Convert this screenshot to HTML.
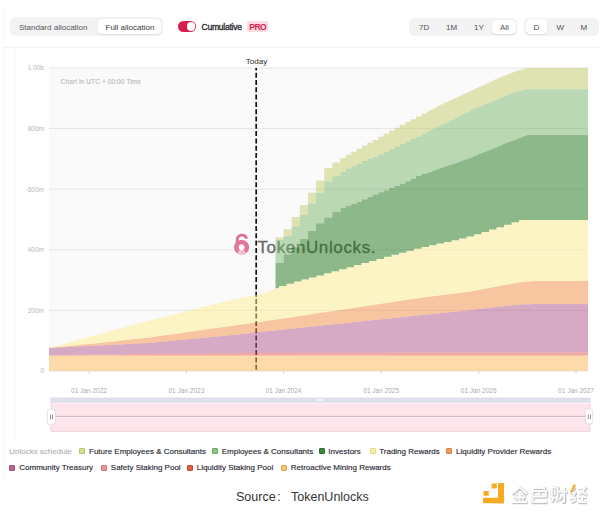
<!DOCTYPE html>
<html><head><meta charset="utf-8">
<style>
html,body{margin:0;padding:0;background:#fff;}
body{width:600px;height:515px;position:relative;overflow:hidden;font-family:"Liberation Sans",sans-serif;}
.a{position:absolute;white-space:nowrap;}
.grp{position:absolute;background:#f3f3f4;border-radius:5px;}
.btn{position:absolute;background:#fff;border-radius:4px;box-shadow:0 0 1px rgba(0,0,0,.18),0 1px 1px rgba(0,0,0,.06);}
.t8{font-size:8px;line-height:10px;}
.yl{position:absolute;left:0;width:44px;text-align:right;font-size:6.5px;line-height:10px;color:#b6b6ba;}
.xl{position:absolute;top:385.5px;width:60px;text-align:center;font-size:6.5px;line-height:10px;color:#aaaaae;}
.lg{position:absolute;font-size:8px;line-height:10px;color:#2a2a33;white-space:nowrap;-webkit-text-stroke:0.15px #2a2a33;}
.sw{position:absolute;width:6px;height:6px;border-radius:1px;box-sizing:border-box;}
</style></head><body>
<!-- faint frame lines -->
<div class="a" style="left:3px;top:10px;width:1px;height:468px;background:#f8f8f9"></div>
<div class="a" style="left:15px;top:47px;width:1px;height:393px;background:#f9f9fa"></div>
<div class="a" style="left:3px;top:47px;width:597px;height:1px;background:#f2f2f3"></div>

<!-- allocation toggle -->
<div class="grp" style="left:10px;top:17px;width:153px;height:19px"></div>
<div class="btn" style="left:97.8px;top:19.4px;width:63.2px;height:14.8px"></div>
<div class="a t8" style="left:19px;top:22.7px;color:#55555c">Standard allocation</div>
<div class="a t8" style="left:105.5px;top:22.7px;color:#3a3a40">Full allocation</div>

<!-- cumulative switch -->
<div class="a" style="left:178px;top:21px;width:18px;height:11px;border-radius:5.5px;background:#d91c4c"></div>
<div class="a" style="left:186.7px;top:22.2px;width:8.6px;height:8.6px;border-radius:4.3px;background:#fff"></div>
<div class="a" style="left:201.5px;top:21.8px;font-size:8.6px;line-height:10px;letter-spacing:-0.28px;color:#24242b;-webkit-text-stroke:0.3px #24242b">Cumulative</div>
<div class="a" style="left:247px;top:21px;width:21px;height:11px;border-radius:2px;background:#fcdbe3"></div>
<div class="a" style="left:249.3px;top:21.8px;font-size:8.6px;line-height:10px;font-weight:bold;letter-spacing:-0.65px;color:#d2244f">PRO</div>

<!-- range group -->
<div class="grp" style="left:409px;top:17.5px;width:108px;height:18.5px"></div>
<div class="btn" style="left:492.4px;top:19.6px;width:24px;height:14.8px"></div>
<div class="a t8" style="left:419px;top:23px;color:#505057">7D</div>
<div class="a t8" style="left:446px;top:23px;color:#505057">1M</div>
<div class="a t8" style="left:474px;top:23px;color:#505057">1Y</div>
<div class="a t8" style="left:500px;top:23px;color:#505057">All</div>

<div class="grp" style="left:524px;top:17.5px;width:74.5px;height:18px"></div>
<div class="btn" style="left:525.7px;top:19.3px;width:21px;height:14.7px"></div>
<div class="a t8" style="left:533.5px;top:23px;color:#505057">D</div>
<div class="a t8" style="left:556.5px;top:23px;color:#505057">W</div>
<div class="a t8" style="left:580.5px;top:23px;color:#505057">M</div>

<!-- chart -->
<svg class="a" style="left:0;top:0" width="600" height="515" viewBox="0 0 600 515">
<rect x="49" y="68" width="539" height="303" fill="#fafafb"/>
<line x1="49" x2="588" y1="68.0" y2="68.0" stroke="#e4e4e6" stroke-width="1"/>
<line x1="49" x2="588" y1="128.6" y2="128.6" stroke="#e4e4e6" stroke-width="1"/>
<line x1="49" x2="588" y1="189.2" y2="189.2" stroke="#e4e4e6" stroke-width="1"/>
<line x1="49" x2="588" y1="249.8" y2="249.8" stroke="#e4e4e6" stroke-width="1"/>
<line x1="49" x2="588" y1="310.4" y2="310.4" stroke="#e4e4e6" stroke-width="1"/>
<line x1="49" x2="588" y1="371.0" y2="371.0" stroke="#e4e4e6" stroke-width="1"/>
<line x1="256.2" x2="256.2" y1="68" y2="371" stroke="#111" stroke-width="1.7" stroke-dasharray="5 2.3" stroke-dashoffset="2.6"/>
<g opacity="0.78"><text x="257.5" y="252.9" font-family="Liberation Sans" font-size="17" letter-spacing="0.62" fill="#3e4048" stroke="#3e4048" stroke-width="0.3">TokenUnlocks.</text></g>
<rect x="49" y="355.5" width="539" height="15.5" fill="#feba57" fill-opacity="0.5"/>
<path d="M49.0,355.2 L50.0,355.2 L51.0,355.2 L52.0,355.2 L53.0,355.1 L54.0,355.1 L55.0,355.1 L56.0,355.1 L57.0,355.1 L58.0,355.1 L59.0,355.1 L60.0,355.0 L61.0,355.0 L62.0,355.0 L63.0,355.0 L64.0,355.0 L65.0,355.0 L66.0,355.0 L67.0,355.0 L68.0,354.9 L69.0,354.9 L70.0,354.9 L71.0,354.9 L72.0,354.9 L73.0,354.9 L74.0,354.9 L75.0,354.8 L76.0,354.8 L77.0,354.8 L78.0,354.8 L79.0,354.8 L80.0,354.8 L81.0,354.8 L82.0,354.7 L83.0,354.7 L84.0,354.7 L85.0,354.7 L86.0,354.7 L87.0,354.7 L88.0,354.7 L89.0,354.6 L90.0,354.6 L91.0,354.6 L92.0,354.6 L93.0,354.6 L94.0,354.6 L95.0,354.6 L96.0,354.6 L97.0,354.5 L98.0,354.5 L99.0,354.5 L100.0,354.5 L101.0,354.5 L102.0,354.5 L103.0,354.5 L104.0,354.4 L105.0,354.4 L106.0,354.4 L107.0,354.4 L108.0,354.4 L109.0,354.4 L110.0,354.4 L111.0,354.3 L112.0,354.3 L113.0,354.3 L114.0,354.3 L115.0,354.3 L116.0,354.3 L117.0,354.3 L118.0,354.2 L119.0,354.2 L120.0,354.2 L121.0,354.2 L122.0,354.2 L123.0,354.2 L124.0,354.2 L125.0,354.2 L126.0,354.1 L127.0,354.1 L128.0,354.1 L129.0,354.1 L130.0,354.1 L131.0,354.1 L132.0,354.1 L133.0,354.0 L134.0,354.0 L135.0,354.0 L136.0,354.0 L137.0,354.0 L138.0,354.0 L139.0,354.0 L140.0,353.9 L141.0,353.9 L142.0,353.9 L143.0,353.9 L144.0,353.9 L145.0,353.9 L146.0,353.9 L147.0,353.8 L148.0,353.8 L149.0,353.8 L150.0,353.8 L151.0,353.8 L152.0,353.8 L153.0,353.8 L154.0,353.8 L155.0,353.7 L156.0,353.7 L157.0,353.7 L158.0,353.7 L159.0,353.7 L160.0,353.7 L161.0,353.7 L162.0,353.6 L163.0,353.6 L164.0,353.6 L165.0,353.6 L166.0,353.6 L167.0,353.6 L168.0,353.6 L169.0,353.6 L170.0,353.6 L171.0,353.6 L172.0,353.6 L173.0,353.6 L174.0,353.5 L175.0,353.5 L176.0,353.5 L177.0,353.5 L178.0,353.5 L179.0,353.5 L180.0,353.5 L181.0,353.5 L182.0,353.5 L183.0,353.5 L184.0,353.5 L185.0,353.5 L186.0,353.5 L187.0,353.5 L188.0,353.5 L189.0,353.5 L190.0,353.5 L191.0,353.4 L192.0,353.4 L193.0,353.4 L194.0,353.4 L195.0,353.4 L196.0,353.4 L197.0,353.4 L198.0,353.4 L199.0,353.4 L200.0,353.4 L201.0,353.4 L202.0,353.4 L203.0,353.4 L204.0,353.4 L205.0,353.4 L206.0,353.4 L207.0,353.4 L208.0,353.3 L209.0,353.3 L210.0,353.3 L211.0,353.3 L212.0,353.3 L213.0,353.3 L214.0,353.3 L215.0,353.3 L216.0,353.3 L217.0,353.3 L218.0,353.3 L219.0,353.3 L220.0,353.3 L221.0,353.3 L222.0,353.3 L223.0,353.3 L224.0,353.3 L225.0,353.2 L226.0,353.2 L227.0,353.2 L228.0,353.2 L229.0,353.2 L230.0,353.2 L231.0,353.2 L232.0,353.2 L233.0,353.2 L234.0,353.2 L235.0,353.2 L236.0,353.2 L237.0,353.2 L238.0,353.2 L239.0,353.2 L240.0,353.2 L241.0,353.1 L242.0,353.1 L243.0,353.1 L244.0,353.1 L245.0,353.1 L246.0,353.1 L247.0,353.1 L248.0,353.1 L249.0,353.1 L250.0,353.1 L251.0,353.1 L252.0,353.1 L253.0,353.1 L254.0,353.1 L255.0,353.1 L256.0,353.1 L257.0,353.1 L258.0,353.0 L259.0,353.0 L260.0,353.0 L261.0,353.0 L262.0,353.0 L263.0,353.0 L264.0,353.0 L265.0,353.0 L266.0,353.0 L267.0,353.0 L268.0,353.0 L269.0,353.0 L270.0,353.0 L271.0,353.0 L272.0,353.0 L273.0,353.0 L274.0,353.0 L275.0,352.9 L276.0,352.9 L277.0,352.9 L278.0,352.9 L279.0,352.9 L280.0,352.9 L281.0,352.9 L282.0,352.9 L283.0,352.9 L284.0,352.9 L285.0,352.9 L286.0,352.9 L287.0,352.9 L288.0,352.9 L289.0,352.9 L290.0,352.9 L291.0,352.9 L292.0,352.8 L293.0,352.8 L294.0,352.8 L295.0,352.8 L296.0,352.8 L297.0,352.8 L298.0,352.8 L299.0,352.8 L300.0,352.8 L301.0,352.8 L302.0,352.8 L303.0,352.8 L304.0,352.8 L305.0,352.8 L306.0,352.8 L307.0,352.8 L308.0,352.8 L309.0,352.8 L310.0,352.8 L311.0,352.8 L312.0,352.8 L313.0,352.8 L314.0,352.8 L315.0,352.8 L316.0,352.8 L317.0,352.8 L318.0,352.8 L319.0,352.8 L320.0,352.8 L321.0,352.8 L322.0,352.8 L323.0,352.8 L324.0,352.8 L325.0,352.8 L326.0,352.8 L327.0,352.8 L328.0,352.8 L329.0,352.7 L330.0,352.7 L331.0,352.7 L332.0,352.7 L333.0,352.7 L334.0,352.7 L335.0,352.7 L336.0,352.7 L337.0,352.7 L338.0,352.7 L339.0,352.7 L340.0,352.7 L341.0,352.7 L342.0,352.7 L343.0,352.7 L344.0,352.7 L345.0,352.7 L346.0,352.7 L347.0,352.7 L348.0,352.7 L349.0,352.7 L350.0,352.7 L351.0,352.7 L352.0,352.7 L353.0,352.7 L354.0,352.7 L355.0,352.7 L356.0,352.7 L357.0,352.7 L358.0,352.7 L359.0,352.7 L360.0,352.7 L361.0,352.7 L362.0,352.7 L363.0,352.7 L364.0,352.7 L365.0,352.7 L366.0,352.7 L367.0,352.7 L368.0,352.7 L369.0,352.7 L370.0,352.7 L371.0,352.7 L372.0,352.7 L373.0,352.7 L374.0,352.7 L375.0,352.7 L376.0,352.7 L377.0,352.7 L378.0,352.7 L379.0,352.7 L380.0,352.7 L381.0,352.7 L382.0,352.7 L383.0,352.7 L384.0,352.7 L385.0,352.7 L386.0,352.7 L387.0,352.6 L388.0,352.6 L389.0,352.6 L390.0,352.6 L391.0,352.6 L392.0,352.6 L393.0,352.6 L394.0,352.6 L395.0,352.6 L396.0,352.6 L397.0,352.6 L398.0,352.6 L399.0,352.6 L400.0,352.6 L401.0,352.6 L402.0,352.6 L403.0,352.6 L404.0,352.6 L405.0,352.6 L406.0,352.6 L407.0,352.6 L408.0,352.6 L409.0,352.6 L410.0,352.6 L411.0,352.6 L412.0,352.6 L413.0,352.6 L414.0,352.6 L415.0,352.6 L416.0,352.6 L417.0,352.6 L418.0,352.6 L419.0,352.6 L420.0,352.6 L421.0,352.6 L422.0,352.6 L423.0,352.6 L424.0,352.6 L425.0,352.6 L426.0,352.6 L427.0,352.6 L428.0,352.6 L429.0,352.6 L430.0,352.6 L431.0,352.6 L432.0,352.6 L433.0,352.6 L434.0,352.6 L435.0,352.6 L436.0,352.6 L437.0,352.6 L438.0,352.6 L439.0,352.6 L440.0,352.6 L441.0,352.6 L442.0,352.6 L443.0,352.6 L444.0,352.6 L445.0,352.5 L446.0,352.5 L447.0,352.5 L448.0,352.5 L449.0,352.5 L450.0,352.5 L451.0,352.5 L452.0,352.5 L453.0,352.5 L454.0,352.5 L455.0,352.5 L456.0,352.5 L457.0,352.5 L458.0,352.5 L459.0,352.5 L460.0,352.5 L461.0,352.5 L462.0,352.5 L463.0,352.5 L464.0,352.5 L465.0,352.5 L466.0,352.5 L467.0,352.5 L468.0,352.5 L469.0,352.5 L470.0,352.5 L471.0,352.5 L472.0,352.5 L473.0,352.5 L474.0,352.5 L475.0,352.5 L476.0,352.5 L477.0,352.5 L478.0,352.5 L479.0,352.5 L480.0,352.5 L481.0,352.5 L482.0,352.5 L483.0,352.5 L484.0,352.5 L485.0,352.5 L486.0,352.5 L487.0,352.5 L488.0,352.5 L489.0,352.5 L490.0,352.5 L491.0,352.5 L492.0,352.5 L493.0,352.5 L494.0,352.5 L495.0,352.5 L496.0,352.5 L497.0,352.5 L498.0,352.5 L499.0,352.5 L500.0,352.5 L501.0,352.5 L502.0,352.4 L503.0,352.4 L504.0,352.4 L505.0,352.4 L506.0,352.4 L507.0,352.4 L508.0,352.4 L509.0,352.4 L510.0,352.4 L511.0,352.4 L512.0,352.4 L513.0,352.4 L514.0,352.4 L515.0,352.4 L516.0,352.4 L517.0,352.4 L518.0,352.4 L519.0,352.4 L520.0,352.4 L521.0,352.4 L522.0,352.4 L523.0,352.4 L524.0,352.4 L525.0,352.4 L526.0,352.4 L527.0,352.4 L528.0,352.4 L529.0,352.4 L530.0,352.4 L531.0,352.4 L532.0,352.4 L533.0,352.4 L534.0,352.4 L535.0,352.4 L536.0,352.4 L537.0,352.4 L538.0,352.4 L539.0,352.4 L540.0,352.4 L541.0,352.4 L542.0,352.4 L543.0,352.4 L544.0,352.4 L545.0,352.4 L546.0,352.4 L547.0,352.4 L548.0,352.4 L549.0,352.4 L550.0,352.4 L551.0,352.4 L552.0,352.4 L553.0,352.4 L554.0,352.4 L555.0,352.4 L556.0,352.4 L557.0,352.4 L558.0,352.4 L559.0,352.4 L560.0,352.3 L561.0,352.3 L562.0,352.3 L563.0,352.3 L564.0,352.3 L565.0,352.3 L566.0,352.3 L567.0,352.3 L568.0,352.3 L569.0,352.3 L570.0,352.3 L571.0,352.3 L572.0,352.3 L573.0,352.3 L574.0,352.3 L575.0,352.3 L576.0,352.3 L577.0,352.3 L578.0,352.3 L579.0,352.3 L580.0,352.3 L581.0,352.3 L582.0,352.3 L583.0,352.3 L584.0,352.3 L585.0,352.3 L586.0,352.3 L587.0,352.3 L588.0,352.3 L588.0,355.6 L587.0,355.6 L586.0,355.6 L585.0,355.6 L584.0,355.6 L583.0,355.6 L582.0,355.6 L581.0,355.6 L580.0,355.6 L579.0,355.6 L578.0,355.6 L577.0,355.6 L576.0,355.6 L575.0,355.6 L574.0,355.6 L573.0,355.6 L572.0,355.6 L571.0,355.6 L570.0,355.6 L569.0,355.6 L568.0,355.6 L567.0,355.6 L566.0,355.6 L565.0,355.6 L564.0,355.6 L563.0,355.6 L562.0,355.6 L561.0,355.6 L560.0,355.6 L559.0,355.6 L558.0,355.6 L557.0,355.6 L556.0,355.6 L555.0,355.6 L554.0,355.6 L553.0,355.6 L552.0,355.6 L551.0,355.6 L550.0,355.6 L549.0,355.6 L548.0,355.6 L547.0,355.6 L546.0,355.6 L545.0,355.6 L544.0,355.6 L543.0,355.6 L542.0,355.6 L541.0,355.6 L540.0,355.6 L539.0,355.6 L538.0,355.6 L537.0,355.6 L536.0,355.6 L535.0,355.6 L534.0,355.6 L533.0,355.6 L532.0,355.6 L531.0,355.6 L530.0,355.6 L529.0,355.6 L528.0,355.6 L527.0,355.6 L526.0,355.6 L525.0,355.6 L524.0,355.6 L523.0,355.6 L522.0,355.6 L521.0,355.6 L520.0,355.6 L519.0,355.6 L518.0,355.6 L517.0,355.6 L516.0,355.6 L515.0,355.6 L514.0,355.6 L513.0,355.6 L512.0,355.6 L511.0,355.6 L510.0,355.6 L509.0,355.6 L508.0,355.6 L507.0,355.6 L506.0,355.6 L505.0,355.6 L504.0,355.6 L503.0,355.6 L502.0,355.6 L501.0,355.6 L500.0,355.6 L499.0,355.6 L498.0,355.6 L497.0,355.6 L496.0,355.6 L495.0,355.6 L494.0,355.6 L493.0,355.6 L492.0,355.6 L491.0,355.6 L490.0,355.6 L489.0,355.6 L488.0,355.6 L487.0,355.6 L486.0,355.6 L485.0,355.6 L484.0,355.6 L483.0,355.6 L482.0,355.6 L481.0,355.6 L480.0,355.6 L479.0,355.6 L478.0,355.6 L477.0,355.6 L476.0,355.6 L475.0,355.6 L474.0,355.6 L473.0,355.6 L472.0,355.6 L471.0,355.6 L470.0,355.6 L469.0,355.6 L468.0,355.6 L467.0,355.6 L466.0,355.6 L465.0,355.6 L464.0,355.6 L463.0,355.6 L462.0,355.6 L461.0,355.6 L460.0,355.6 L459.0,355.6 L458.0,355.6 L457.0,355.6 L456.0,355.6 L455.0,355.6 L454.0,355.6 L453.0,355.6 L452.0,355.6 L451.0,355.6 L450.0,355.6 L449.0,355.6 L448.0,355.6 L447.0,355.6 L446.0,355.6 L445.0,355.6 L444.0,355.6 L443.0,355.6 L442.0,355.6 L441.0,355.6 L440.0,355.6 L439.0,355.6 L438.0,355.6 L437.0,355.6 L436.0,355.6 L435.0,355.6 L434.0,355.6 L433.0,355.6 L432.0,355.6 L431.0,355.6 L430.0,355.6 L429.0,355.6 L428.0,355.6 L427.0,355.6 L426.0,355.6 L425.0,355.6 L424.0,355.6 L423.0,355.6 L422.0,355.6 L421.0,355.6 L420.0,355.6 L419.0,355.6 L418.0,355.6 L417.0,355.6 L416.0,355.6 L415.0,355.6 L414.0,355.6 L413.0,355.6 L412.0,355.6 L411.0,355.6 L410.0,355.6 L409.0,355.6 L408.0,355.6 L407.0,355.6 L406.0,355.6 L405.0,355.6 L404.0,355.6 L403.0,355.6 L402.0,355.6 L401.0,355.6 L400.0,355.6 L399.0,355.6 L398.0,355.6 L397.0,355.6 L396.0,355.6 L395.0,355.6 L394.0,355.6 L393.0,355.6 L392.0,355.6 L391.0,355.6 L390.0,355.6 L389.0,355.6 L388.0,355.6 L387.0,355.6 L386.0,355.6 L385.0,355.6 L384.0,355.6 L383.0,355.6 L382.0,355.6 L381.0,355.6 L380.0,355.6 L379.0,355.6 L378.0,355.6 L377.0,355.6 L376.0,355.6 L375.0,355.6 L374.0,355.6 L373.0,355.6 L372.0,355.6 L371.0,355.6 L370.0,355.6 L369.0,355.6 L368.0,355.6 L367.0,355.6 L366.0,355.6 L365.0,355.6 L364.0,355.6 L363.0,355.6 L362.0,355.6 L361.0,355.6 L360.0,355.6 L359.0,355.6 L358.0,355.6 L357.0,355.6 L356.0,355.6 L355.0,355.6 L354.0,355.6 L353.0,355.6 L352.0,355.6 L351.0,355.6 L350.0,355.6 L349.0,355.6 L348.0,355.6 L347.0,355.6 L346.0,355.6 L345.0,355.6 L344.0,355.6 L343.0,355.6 L342.0,355.6 L341.0,355.6 L340.0,355.6 L339.0,355.6 L338.0,355.6 L337.0,355.6 L336.0,355.6 L335.0,355.6 L334.0,355.6 L333.0,355.6 L332.0,355.6 L331.0,355.6 L330.0,355.6 L329.0,355.6 L328.0,355.6 L327.0,355.6 L326.0,355.6 L325.0,355.6 L324.0,355.6 L323.0,355.6 L322.0,355.6 L321.0,355.6 L320.0,355.6 L319.0,355.6 L318.0,355.6 L317.0,355.6 L316.0,355.6 L315.0,355.6 L314.0,355.6 L313.0,355.6 L312.0,355.6 L311.0,355.6 L310.0,355.6 L309.0,355.6 L308.0,355.6 L307.0,355.6 L306.0,355.6 L305.0,355.6 L304.0,355.6 L303.0,355.6 L302.0,355.6 L301.0,355.6 L300.0,355.6 L299.0,355.6 L298.0,355.6 L297.0,355.6 L296.0,355.6 L295.0,355.6 L294.0,355.6 L293.0,355.6 L292.0,355.6 L291.0,355.6 L290.0,355.6 L289.0,355.6 L288.0,355.6 L287.0,355.6 L286.0,355.6 L285.0,355.6 L284.0,355.6 L283.0,355.6 L282.0,355.6 L281.0,355.6 L280.0,355.6 L279.0,355.6 L278.0,355.6 L277.0,355.6 L276.0,355.6 L275.0,355.6 L274.0,355.6 L273.0,355.6 L272.0,355.6 L271.0,355.6 L270.0,355.6 L269.0,355.6 L268.0,355.6 L267.0,355.6 L266.0,355.6 L265.0,355.6 L264.0,355.6 L263.0,355.6 L262.0,355.6 L261.0,355.6 L260.0,355.6 L259.0,355.6 L258.0,355.6 L257.0,355.6 L256.0,355.6 L255.0,355.6 L254.0,355.6 L253.0,355.6 L252.0,355.6 L251.0,355.6 L250.0,355.6 L249.0,355.6 L248.0,355.6 L247.0,355.6 L246.0,355.6 L245.0,355.6 L244.0,355.6 L243.0,355.6 L242.0,355.6 L241.0,355.6 L240.0,355.6 L239.0,355.6 L238.0,355.6 L237.0,355.6 L236.0,355.6 L235.0,355.6 L234.0,355.6 L233.0,355.6 L232.0,355.6 L231.0,355.6 L230.0,355.6 L229.0,355.6 L228.0,355.6 L227.0,355.6 L226.0,355.6 L225.0,355.6 L224.0,355.6 L223.0,355.6 L222.0,355.6 L221.0,355.6 L220.0,355.6 L219.0,355.6 L218.0,355.6 L217.0,355.6 L216.0,355.6 L215.0,355.6 L214.0,355.6 L213.0,355.6 L212.0,355.6 L211.0,355.6 L210.0,355.6 L209.0,355.6 L208.0,355.6 L207.0,355.6 L206.0,355.6 L205.0,355.6 L204.0,355.6 L203.0,355.6 L202.0,355.6 L201.0,355.6 L200.0,355.6 L199.0,355.6 L198.0,355.6 L197.0,355.6 L196.0,355.6 L195.0,355.6 L194.0,355.6 L193.0,355.6 L192.0,355.6 L191.0,355.6 L190.0,355.6 L189.0,355.6 L188.0,355.6 L187.0,355.6 L186.0,355.6 L185.0,355.6 L184.0,355.6 L183.0,355.6 L182.0,355.6 L181.0,355.6 L180.0,355.6 L179.0,355.6 L178.0,355.6 L177.0,355.6 L176.0,355.6 L175.0,355.6 L174.0,355.6 L173.0,355.6 L172.0,355.6 L171.0,355.6 L170.0,355.6 L169.0,355.6 L168.0,355.6 L167.0,355.6 L166.0,355.6 L165.0,355.6 L164.0,355.6 L163.0,355.6 L162.0,355.6 L161.0,355.6 L160.0,355.6 L159.0,355.6 L158.0,355.6 L157.0,355.6 L156.0,355.6 L155.0,355.6 L154.0,355.6 L153.0,355.6 L152.0,355.6 L151.0,355.6 L150.0,355.6 L149.0,355.6 L148.0,355.6 L147.0,355.6 L146.0,355.6 L145.0,355.6 L144.0,355.6 L143.0,355.6 L142.0,355.6 L141.0,355.6 L140.0,355.6 L139.0,355.6 L138.0,355.6 L137.0,355.6 L136.0,355.6 L135.0,355.6 L134.0,355.6 L133.0,355.6 L132.0,355.6 L131.0,355.6 L130.0,355.6 L129.0,355.6 L128.0,355.6 L127.0,355.6 L126.0,355.6 L125.0,355.6 L124.0,355.6 L123.0,355.6 L122.0,355.6 L121.0,355.6 L120.0,355.6 L119.0,355.6 L118.0,355.6 L117.0,355.6 L116.0,355.6 L115.0,355.6 L114.0,355.6 L113.0,355.6 L112.0,355.6 L111.0,355.6 L110.0,355.6 L109.0,355.6 L108.0,355.6 L107.0,355.6 L106.0,355.6 L105.0,355.6 L104.0,355.6 L103.0,355.6 L102.0,355.6 L101.0,355.6 L100.0,355.6 L99.0,355.6 L98.0,355.6 L97.0,355.6 L96.0,355.6 L95.0,355.6 L94.0,355.6 L93.0,355.6 L92.0,355.6 L91.0,355.6 L90.0,355.6 L89.0,355.6 L88.0,355.6 L87.0,355.6 L86.0,355.6 L85.0,355.6 L84.0,355.6 L83.0,355.6 L82.0,355.6 L81.0,355.6 L80.0,355.6 L79.0,355.6 L78.0,355.6 L77.0,355.6 L76.0,355.6 L75.0,355.6 L74.0,355.6 L73.0,355.6 L72.0,355.6 L71.0,355.6 L70.0,355.6 L69.0,355.6 L68.0,355.6 L67.0,355.6 L66.0,355.6 L65.0,355.6 L64.0,355.6 L63.0,355.6 L62.0,355.6 L61.0,355.6 L60.0,355.6 L59.0,355.6 L58.0,355.6 L57.0,355.6 L56.0,355.6 L55.0,355.6 L54.0,355.6 L53.0,355.6 L52.0,355.6 L51.0,355.6 L50.0,355.6 L49.0,355.6Z" fill="#e85851" fill-opacity="0.5"/>
<path d="M49.0,348.0 L50.0,347.9 L51.0,347.9 L52.0,347.9 L53.0,347.8 L54.0,347.8 L55.0,347.7 L56.0,347.6 L57.0,347.6 L58.0,347.6 L59.0,347.5 L60.0,347.4 L61.0,347.4 L62.0,347.4 L63.0,347.3 L64.0,347.2 L65.0,347.2 L66.0,347.1 L67.0,347.1 L68.0,347.1 L69.0,347.0 L70.0,346.9 L71.0,346.9 L72.0,346.9 L73.0,346.8 L74.0,346.8 L75.0,346.7 L76.0,346.6 L77.0,346.6 L78.0,346.6 L79.0,346.5 L80.0,346.4 L81.0,346.4 L82.0,346.4 L83.0,346.3 L84.0,346.2 L85.0,346.2 L86.0,346.1 L87.0,346.1 L88.0,346.1 L89.0,346.0 L90.0,345.9 L91.0,345.9 L92.0,345.9 L93.0,345.8 L94.0,345.8 L95.0,345.7 L96.0,345.6 L97.0,345.6 L98.0,345.6 L99.0,345.5 L100.0,345.4 L101.0,345.4 L102.0,345.4 L103.0,345.3 L104.0,345.2 L105.0,345.2 L106.0,345.1 L107.0,345.1 L108.0,345.1 L109.0,345.0 L110.0,344.9 L111.0,344.9 L112.0,344.9 L113.0,344.8 L114.0,344.8 L115.0,344.7 L116.0,344.6 L117.0,344.6 L118.0,344.6 L119.0,344.5 L120.0,344.4 L121.0,344.4 L122.0,344.4 L123.0,344.3 L124.0,344.2 L125.0,344.2 L126.0,344.1 L127.0,344.1 L128.0,344.1 L129.0,344.0 L130.0,343.9 L131.0,343.9 L132.0,343.9 L133.0,343.8 L134.0,343.8 L135.0,343.7 L136.0,343.6 L137.0,343.6 L138.0,343.6 L139.0,343.5 L140.0,343.4 L141.0,343.4 L142.0,343.4 L143.0,343.3 L144.0,343.2 L145.0,343.2 L146.0,343.1 L147.0,343.1 L148.0,343.1 L149.0,343.0 L150.0,342.9 L151.0,342.8 L152.0,342.7 L153.0,342.6 L154.0,342.5 L155.0,342.4 L156.0,342.3 L157.0,342.2 L158.0,342.1 L159.0,342.0 L160.0,342.0 L161.0,341.9 L162.0,341.8 L163.0,341.7 L164.0,341.6 L165.0,341.5 L166.0,341.4 L167.0,341.3 L168.0,341.2 L169.0,341.1 L170.0,341.0 L171.0,340.9 L172.0,340.8 L173.0,340.7 L174.0,340.6 L175.0,340.5 L176.0,340.4 L177.0,340.3 L178.0,340.2 L179.0,340.1 L180.0,340.1 L181.0,340.0 L182.0,339.9 L183.0,339.8 L184.0,339.7 L185.0,339.6 L186.0,339.5 L187.0,339.4 L188.0,339.3 L189.0,339.2 L190.0,339.1 L191.0,339.0 L192.0,338.9 L193.0,338.8 L194.0,338.7 L195.0,338.6 L196.0,338.5 L197.0,338.4 L198.0,338.3 L199.0,338.2 L200.0,338.2 L201.0,338.1 L202.0,338.0 L203.0,337.9 L204.0,337.8 L205.0,337.7 L206.0,337.6 L207.0,337.5 L208.0,337.4 L209.0,337.3 L210.0,337.2 L211.0,337.1 L212.0,337.0 L213.0,336.9 L214.0,336.8 L215.0,336.7 L216.0,336.6 L217.0,336.5 L218.0,336.4 L219.0,336.3 L220.0,336.3 L221.0,336.2 L222.0,336.1 L223.0,336.0 L224.0,335.9 L225.0,335.8 L226.0,335.7 L227.0,335.6 L228.0,335.5 L229.0,335.4 L230.0,335.3 L231.0,335.2 L232.0,335.1 L233.0,335.0 L234.0,334.9 L235.0,334.7 L236.0,334.6 L237.0,334.5 L238.0,334.4 L239.0,334.3 L240.0,334.2 L241.0,334.1 L242.0,334.0 L243.0,333.9 L244.0,333.7 L245.0,333.6 L246.0,333.5 L247.0,333.4 L248.0,333.3 L249.0,333.2 L250.0,333.1 L251.0,333.0 L252.0,332.8 L253.0,332.7 L254.0,332.6 L255.0,332.5 L256.0,332.4 L257.0,332.3 L258.0,332.2 L259.0,332.1 L260.0,332.0 L261.0,331.9 L262.0,331.8 L263.0,331.7 L264.0,331.6 L265.0,331.5 L266.0,331.4 L267.0,331.2 L268.0,331.1 L269.0,331.0 L270.0,330.9 L271.0,330.8 L272.0,330.7 L273.0,330.6 L274.0,330.5 L275.0,330.4 L276.0,330.3 L277.0,330.2 L278.0,330.1 L279.0,330.0 L280.0,329.9 L281.0,329.8 L282.0,329.7 L283.0,329.6 L284.0,329.5 L285.0,329.4 L286.0,329.3 L287.0,329.2 L288.0,329.1 L289.0,328.9 L290.0,328.8 L291.0,328.7 L292.0,328.6 L293.0,328.5 L294.0,328.4 L295.0,328.3 L296.0,328.2 L297.0,328.1 L298.0,328.0 L299.0,327.9 L300.0,327.8 L301.0,327.7 L302.0,327.6 L303.0,327.5 L304.0,327.4 L305.0,327.3 L306.0,327.2 L307.0,327.1 L308.0,327.0 L309.0,326.9 L310.0,326.8 L311.0,326.7 L312.0,326.6 L313.0,326.4 L314.0,326.3 L315.0,326.2 L316.0,326.1 L317.0,326.0 L318.0,325.9 L319.0,325.8 L320.0,325.7 L321.0,325.6 L322.0,325.5 L323.0,325.4 L324.0,325.3 L325.0,325.2 L326.0,325.1 L327.0,325.0 L328.0,324.9 L329.0,324.8 L330.0,324.7 L331.0,324.6 L332.0,324.5 L333.0,324.4 L334.0,324.3 L335.0,324.2 L336.0,324.1 L337.0,323.9 L338.0,323.8 L339.0,323.7 L340.0,323.6 L341.0,323.5 L342.0,323.4 L343.0,323.3 L344.0,323.2 L345.0,323.1 L346.0,323.0 L347.0,322.9 L348.0,322.8 L349.0,322.7 L350.0,322.6 L351.0,322.5 L352.0,322.4 L353.0,322.3 L354.0,322.2 L355.0,322.1 L356.0,322.0 L357.0,321.9 L358.0,321.8 L359.0,321.7 L360.0,321.6 L361.0,321.4 L362.0,321.3 L363.0,321.2 L364.0,321.1 L365.0,321.0 L366.0,320.9 L367.0,320.8 L368.0,320.7 L369.0,320.6 L370.0,320.5 L371.0,320.4 L372.0,320.3 L373.0,320.2 L374.0,320.1 L375.0,320.0 L376.0,319.9 L377.0,319.8 L378.0,319.7 L379.0,319.6 L380.0,319.5 L381.0,319.4 L382.0,319.3 L383.0,319.2 L384.0,319.1 L385.0,318.9 L386.0,318.8 L387.0,318.7 L388.0,318.6 L389.0,318.5 L390.0,318.4 L391.0,318.3 L392.0,318.2 L393.0,318.1 L394.0,318.0 L395.0,317.9 L396.0,317.8 L397.0,317.7 L398.0,317.6 L399.0,317.5 L400.0,317.4 L401.0,317.3 L402.0,317.2 L403.0,317.1 L404.0,317.0 L405.0,316.9 L406.0,316.8 L407.0,316.7 L408.0,316.6 L409.0,316.4 L410.0,316.3 L411.0,316.2 L412.0,316.1 L413.0,316.0 L414.0,315.9 L415.0,315.8 L416.0,315.7 L417.0,315.6 L418.0,315.5 L419.0,315.4 L420.0,315.3 L421.0,315.2 L422.0,315.1 L423.0,315.0 L424.0,314.9 L425.0,314.8 L426.0,314.7 L427.0,314.6 L428.0,314.5 L429.0,314.4 L430.0,314.3 L431.0,314.2 L432.0,314.1 L433.0,313.9 L434.0,313.8 L435.0,313.7 L436.0,313.6 L437.0,313.5 L438.0,313.4 L439.0,313.3 L440.0,313.2 L441.0,313.1 L442.0,313.0 L443.0,312.9 L444.0,312.8 L445.0,312.7 L446.0,312.6 L447.0,312.5 L448.0,312.4 L449.0,312.3 L450.0,312.2 L451.0,312.1 L452.0,312.0 L453.0,311.9 L454.0,311.8 L455.0,311.7 L456.0,311.6 L457.0,311.5 L458.0,311.3 L459.0,311.2 L460.0,311.1 L461.0,311.0 L462.0,310.9 L463.0,310.8 L464.0,310.7 L465.0,310.6 L466.0,310.5 L467.0,310.4 L468.0,310.3 L469.0,310.2 L470.0,310.1 L471.0,310.0 L472.0,309.9 L473.0,309.8 L474.0,309.6 L475.0,309.5 L476.0,309.4 L477.0,309.3 L478.0,309.2 L479.0,309.1 L480.0,309.0 L481.0,308.8 L482.0,308.7 L483.0,308.6 L484.0,308.5 L485.0,308.4 L486.0,308.3 L487.0,308.1 L488.0,308.0 L489.0,307.9 L490.0,307.8 L491.0,307.7 L492.0,307.6 L493.0,307.5 L494.0,307.3 L495.0,307.2 L496.0,307.1 L497.0,307.0 L498.0,306.9 L499.0,306.8 L500.0,306.6 L501.0,306.5 L502.0,306.4 L503.0,306.3 L504.0,306.2 L505.0,306.1 L506.0,306.0 L507.0,305.8 L508.0,305.7 L509.0,305.6 L510.0,305.5 L511.0,305.4 L512.0,305.3 L513.0,305.3 L514.0,305.2 L515.0,305.1 L516.0,305.0 L517.0,304.9 L518.0,304.9 L519.0,304.8 L520.0,304.7 L521.0,304.6 L522.0,304.5 L523.0,304.5 L524.0,304.4 L525.0,304.3 L526.0,304.3 L527.0,304.3 L528.0,304.2 L529.0,304.2 L530.0,304.2 L531.0,304.2 L532.0,304.2 L533.0,304.1 L534.0,304.1 L535.0,304.1 L536.0,304.1 L537.0,304.1 L538.0,304.0 L539.0,304.0 L540.0,304.0 L541.0,304.0 L542.0,304.0 L543.0,304.0 L544.0,304.0 L545.0,304.0 L546.0,304.0 L547.0,304.0 L548.0,304.0 L549.0,304.0 L550.0,304.0 L551.0,304.0 L552.0,304.0 L553.0,304.0 L554.0,304.0 L555.0,304.0 L556.0,304.0 L557.0,304.0 L558.0,304.0 L559.0,304.0 L560.0,304.0 L561.0,304.0 L562.0,304.0 L563.0,304.0 L564.0,304.0 L565.0,304.0 L566.0,304.0 L567.0,304.0 L568.0,304.0 L569.0,304.0 L570.0,304.0 L571.0,304.0 L572.0,304.0 L573.0,304.0 L574.0,304.0 L575.0,304.0 L576.0,304.0 L577.0,304.0 L578.0,304.0 L579.0,304.0 L580.0,304.0 L581.0,304.0 L582.0,304.0 L583.0,304.0 L584.0,304.0 L585.0,304.0 L586.0,304.0 L587.0,304.0 L588.0,304.0 L588.0,352.3 L587.0,352.3 L586.0,352.3 L585.0,352.3 L584.0,352.3 L583.0,352.3 L582.0,352.3 L581.0,352.3 L580.0,352.3 L579.0,352.3 L578.0,352.3 L577.0,352.3 L576.0,352.3 L575.0,352.3 L574.0,352.3 L573.0,352.3 L572.0,352.3 L571.0,352.3 L570.0,352.3 L569.0,352.3 L568.0,352.3 L567.0,352.3 L566.0,352.3 L565.0,352.3 L564.0,352.3 L563.0,352.3 L562.0,352.3 L561.0,352.3 L560.0,352.3 L559.0,352.4 L558.0,352.4 L557.0,352.4 L556.0,352.4 L555.0,352.4 L554.0,352.4 L553.0,352.4 L552.0,352.4 L551.0,352.4 L550.0,352.4 L549.0,352.4 L548.0,352.4 L547.0,352.4 L546.0,352.4 L545.0,352.4 L544.0,352.4 L543.0,352.4 L542.0,352.4 L541.0,352.4 L540.0,352.4 L539.0,352.4 L538.0,352.4 L537.0,352.4 L536.0,352.4 L535.0,352.4 L534.0,352.4 L533.0,352.4 L532.0,352.4 L531.0,352.4 L530.0,352.4 L529.0,352.4 L528.0,352.4 L527.0,352.4 L526.0,352.4 L525.0,352.4 L524.0,352.4 L523.0,352.4 L522.0,352.4 L521.0,352.4 L520.0,352.4 L519.0,352.4 L518.0,352.4 L517.0,352.4 L516.0,352.4 L515.0,352.4 L514.0,352.4 L513.0,352.4 L512.0,352.4 L511.0,352.4 L510.0,352.4 L509.0,352.4 L508.0,352.4 L507.0,352.4 L506.0,352.4 L505.0,352.4 L504.0,352.4 L503.0,352.4 L502.0,352.4 L501.0,352.5 L500.0,352.5 L499.0,352.5 L498.0,352.5 L497.0,352.5 L496.0,352.5 L495.0,352.5 L494.0,352.5 L493.0,352.5 L492.0,352.5 L491.0,352.5 L490.0,352.5 L489.0,352.5 L488.0,352.5 L487.0,352.5 L486.0,352.5 L485.0,352.5 L484.0,352.5 L483.0,352.5 L482.0,352.5 L481.0,352.5 L480.0,352.5 L479.0,352.5 L478.0,352.5 L477.0,352.5 L476.0,352.5 L475.0,352.5 L474.0,352.5 L473.0,352.5 L472.0,352.5 L471.0,352.5 L470.0,352.5 L469.0,352.5 L468.0,352.5 L467.0,352.5 L466.0,352.5 L465.0,352.5 L464.0,352.5 L463.0,352.5 L462.0,352.5 L461.0,352.5 L460.0,352.5 L459.0,352.5 L458.0,352.5 L457.0,352.5 L456.0,352.5 L455.0,352.5 L454.0,352.5 L453.0,352.5 L452.0,352.5 L451.0,352.5 L450.0,352.5 L449.0,352.5 L448.0,352.5 L447.0,352.5 L446.0,352.5 L445.0,352.5 L444.0,352.6 L443.0,352.6 L442.0,352.6 L441.0,352.6 L440.0,352.6 L439.0,352.6 L438.0,352.6 L437.0,352.6 L436.0,352.6 L435.0,352.6 L434.0,352.6 L433.0,352.6 L432.0,352.6 L431.0,352.6 L430.0,352.6 L429.0,352.6 L428.0,352.6 L427.0,352.6 L426.0,352.6 L425.0,352.6 L424.0,352.6 L423.0,352.6 L422.0,352.6 L421.0,352.6 L420.0,352.6 L419.0,352.6 L418.0,352.6 L417.0,352.6 L416.0,352.6 L415.0,352.6 L414.0,352.6 L413.0,352.6 L412.0,352.6 L411.0,352.6 L410.0,352.6 L409.0,352.6 L408.0,352.6 L407.0,352.6 L406.0,352.6 L405.0,352.6 L404.0,352.6 L403.0,352.6 L402.0,352.6 L401.0,352.6 L400.0,352.6 L399.0,352.6 L398.0,352.6 L397.0,352.6 L396.0,352.6 L395.0,352.6 L394.0,352.6 L393.0,352.6 L392.0,352.6 L391.0,352.6 L390.0,352.6 L389.0,352.6 L388.0,352.6 L387.0,352.6 L386.0,352.7 L385.0,352.7 L384.0,352.7 L383.0,352.7 L382.0,352.7 L381.0,352.7 L380.0,352.7 L379.0,352.7 L378.0,352.7 L377.0,352.7 L376.0,352.7 L375.0,352.7 L374.0,352.7 L373.0,352.7 L372.0,352.7 L371.0,352.7 L370.0,352.7 L369.0,352.7 L368.0,352.7 L367.0,352.7 L366.0,352.7 L365.0,352.7 L364.0,352.7 L363.0,352.7 L362.0,352.7 L361.0,352.7 L360.0,352.7 L359.0,352.7 L358.0,352.7 L357.0,352.7 L356.0,352.7 L355.0,352.7 L354.0,352.7 L353.0,352.7 L352.0,352.7 L351.0,352.7 L350.0,352.7 L349.0,352.7 L348.0,352.7 L347.0,352.7 L346.0,352.7 L345.0,352.7 L344.0,352.7 L343.0,352.7 L342.0,352.7 L341.0,352.7 L340.0,352.7 L339.0,352.7 L338.0,352.7 L337.0,352.7 L336.0,352.7 L335.0,352.7 L334.0,352.7 L333.0,352.7 L332.0,352.7 L331.0,352.7 L330.0,352.7 L329.0,352.7 L328.0,352.8 L327.0,352.8 L326.0,352.8 L325.0,352.8 L324.0,352.8 L323.0,352.8 L322.0,352.8 L321.0,352.8 L320.0,352.8 L319.0,352.8 L318.0,352.8 L317.0,352.8 L316.0,352.8 L315.0,352.8 L314.0,352.8 L313.0,352.8 L312.0,352.8 L311.0,352.8 L310.0,352.8 L309.0,352.8 L308.0,352.8 L307.0,352.8 L306.0,352.8 L305.0,352.8 L304.0,352.8 L303.0,352.8 L302.0,352.8 L301.0,352.8 L300.0,352.8 L299.0,352.8 L298.0,352.8 L297.0,352.8 L296.0,352.8 L295.0,352.8 L294.0,352.8 L293.0,352.8 L292.0,352.8 L291.0,352.9 L290.0,352.9 L289.0,352.9 L288.0,352.9 L287.0,352.9 L286.0,352.9 L285.0,352.9 L284.0,352.9 L283.0,352.9 L282.0,352.9 L281.0,352.9 L280.0,352.9 L279.0,352.9 L278.0,352.9 L277.0,352.9 L276.0,352.9 L275.0,352.9 L274.0,353.0 L273.0,353.0 L272.0,353.0 L271.0,353.0 L270.0,353.0 L269.0,353.0 L268.0,353.0 L267.0,353.0 L266.0,353.0 L265.0,353.0 L264.0,353.0 L263.0,353.0 L262.0,353.0 L261.0,353.0 L260.0,353.0 L259.0,353.0 L258.0,353.0 L257.0,353.1 L256.0,353.1 L255.0,353.1 L254.0,353.1 L253.0,353.1 L252.0,353.1 L251.0,353.1 L250.0,353.1 L249.0,353.1 L248.0,353.1 L247.0,353.1 L246.0,353.1 L245.0,353.1 L244.0,353.1 L243.0,353.1 L242.0,353.1 L241.0,353.1 L240.0,353.2 L239.0,353.2 L238.0,353.2 L237.0,353.2 L236.0,353.2 L235.0,353.2 L234.0,353.2 L233.0,353.2 L232.0,353.2 L231.0,353.2 L230.0,353.2 L229.0,353.2 L228.0,353.2 L227.0,353.2 L226.0,353.2 L225.0,353.2 L224.0,353.3 L223.0,353.3 L222.0,353.3 L221.0,353.3 L220.0,353.3 L219.0,353.3 L218.0,353.3 L217.0,353.3 L216.0,353.3 L215.0,353.3 L214.0,353.3 L213.0,353.3 L212.0,353.3 L211.0,353.3 L210.0,353.3 L209.0,353.3 L208.0,353.3 L207.0,353.4 L206.0,353.4 L205.0,353.4 L204.0,353.4 L203.0,353.4 L202.0,353.4 L201.0,353.4 L200.0,353.4 L199.0,353.4 L198.0,353.4 L197.0,353.4 L196.0,353.4 L195.0,353.4 L194.0,353.4 L193.0,353.4 L192.0,353.4 L191.0,353.4 L190.0,353.5 L189.0,353.5 L188.0,353.5 L187.0,353.5 L186.0,353.5 L185.0,353.5 L184.0,353.5 L183.0,353.5 L182.0,353.5 L181.0,353.5 L180.0,353.5 L179.0,353.5 L178.0,353.5 L177.0,353.5 L176.0,353.5 L175.0,353.5 L174.0,353.5 L173.0,353.6 L172.0,353.6 L171.0,353.6 L170.0,353.6 L169.0,353.6 L168.0,353.6 L167.0,353.6 L166.0,353.6 L165.0,353.6 L164.0,353.6 L163.0,353.6 L162.0,353.6 L161.0,353.7 L160.0,353.7 L159.0,353.7 L158.0,353.7 L157.0,353.7 L156.0,353.7 L155.0,353.7 L154.0,353.8 L153.0,353.8 L152.0,353.8 L151.0,353.8 L150.0,353.8 L149.0,353.8 L148.0,353.8 L147.0,353.8 L146.0,353.9 L145.0,353.9 L144.0,353.9 L143.0,353.9 L142.0,353.9 L141.0,353.9 L140.0,353.9 L139.0,354.0 L138.0,354.0 L137.0,354.0 L136.0,354.0 L135.0,354.0 L134.0,354.0 L133.0,354.0 L132.0,354.1 L131.0,354.1 L130.0,354.1 L129.0,354.1 L128.0,354.1 L127.0,354.1 L126.0,354.1 L125.0,354.2 L124.0,354.2 L123.0,354.2 L122.0,354.2 L121.0,354.2 L120.0,354.2 L119.0,354.2 L118.0,354.2 L117.0,354.3 L116.0,354.3 L115.0,354.3 L114.0,354.3 L113.0,354.3 L112.0,354.3 L111.0,354.3 L110.0,354.4 L109.0,354.4 L108.0,354.4 L107.0,354.4 L106.0,354.4 L105.0,354.4 L104.0,354.4 L103.0,354.5 L102.0,354.5 L101.0,354.5 L100.0,354.5 L99.0,354.5 L98.0,354.5 L97.0,354.5 L96.0,354.6 L95.0,354.6 L94.0,354.6 L93.0,354.6 L92.0,354.6 L91.0,354.6 L90.0,354.6 L89.0,354.6 L88.0,354.7 L87.0,354.7 L86.0,354.7 L85.0,354.7 L84.0,354.7 L83.0,354.7 L82.0,354.7 L81.0,354.8 L80.0,354.8 L79.0,354.8 L78.0,354.8 L77.0,354.8 L76.0,354.8 L75.0,354.8 L74.0,354.9 L73.0,354.9 L72.0,354.9 L71.0,354.9 L70.0,354.9 L69.0,354.9 L68.0,354.9 L67.0,355.0 L66.0,355.0 L65.0,355.0 L64.0,355.0 L63.0,355.0 L62.0,355.0 L61.0,355.0 L60.0,355.0 L59.0,355.1 L58.0,355.1 L57.0,355.1 L56.0,355.1 L55.0,355.1 L54.0,355.1 L53.0,355.1 L52.0,355.2 L51.0,355.2 L50.0,355.2 L49.0,355.2Z" fill="#b25a8d" fill-opacity="0.5"/>
<path d="M49.0,348.0 L50.0,347.9 L51.0,347.8 L52.0,347.7 L53.0,347.6 L54.0,347.5 L55.0,347.4 L56.0,347.3 L57.0,347.2 L58.0,347.1 L59.0,347.0 L60.0,346.9 L61.0,346.8 L62.0,346.7 L63.0,346.6 L64.0,346.5 L65.0,346.4 L66.0,346.3 L67.0,346.2 L68.0,346.1 L69.0,346.0 L70.0,345.9 L71.0,345.8 L72.0,345.7 L73.0,345.6 L74.0,345.5 L75.0,345.4 L76.0,345.3 L77.0,345.2 L78.0,345.1 L79.0,345.0 L80.0,344.9 L81.0,344.8 L82.0,344.7 L83.0,344.6 L84.0,344.5 L85.0,344.4 L86.0,344.3 L87.0,344.2 L88.0,344.1 L89.0,344.0 L90.0,343.9 L91.0,343.8 L92.0,343.7 L93.0,343.6 L94.0,343.5 L95.0,343.4 L96.0,343.3 L97.0,343.2 L98.0,343.1 L99.0,343.0 L100.0,342.9 L101.0,342.8 L102.0,342.7 L103.0,342.6 L104.0,342.4 L105.0,342.3 L106.0,342.2 L107.0,342.1 L108.0,342.0 L109.0,341.9 L110.0,341.8 L111.0,341.7 L112.0,341.6 L113.0,341.5 L114.0,341.4 L115.0,341.2 L116.0,341.1 L117.0,341.0 L118.0,340.9 L119.0,340.8 L120.0,340.7 L121.0,340.6 L122.0,340.5 L123.0,340.4 L124.0,340.2 L125.0,340.1 L126.0,340.0 L127.0,339.9 L128.0,339.8 L129.0,339.7 L130.0,339.6 L131.0,339.5 L132.0,339.4 L133.0,339.3 L134.0,339.1 L135.0,339.0 L136.0,338.9 L137.0,338.8 L138.0,338.7 L139.0,338.6 L140.0,338.5 L141.0,338.4 L142.0,338.3 L143.0,338.2 L144.0,338.1 L145.0,337.9 L146.0,337.8 L147.0,337.7 L148.0,337.6 L149.0,337.5 L150.0,337.4 L151.0,337.2 L152.0,337.1 L153.0,336.9 L154.0,336.8 L155.0,336.7 L156.0,336.5 L157.0,336.4 L158.0,336.2 L159.0,336.1 L160.0,336.0 L161.0,335.8 L162.0,335.7 L163.0,335.5 L164.0,335.4 L165.0,335.2 L166.0,335.1 L167.0,335.0 L168.0,334.8 L169.0,334.7 L170.0,334.5 L171.0,334.4 L172.0,334.3 L173.0,334.1 L174.0,334.0 L175.0,333.8 L176.0,333.7 L177.0,333.6 L178.0,333.4 L179.0,333.3 L180.0,333.1 L181.0,333.0 L182.0,332.9 L183.0,332.7 L184.0,332.6 L185.0,332.4 L186.0,332.3 L187.0,332.2 L188.0,332.0 L189.0,331.9 L190.0,331.7 L191.0,331.6 L192.0,331.4 L193.0,331.3 L194.0,331.2 L195.0,331.0 L196.0,330.9 L197.0,330.7 L198.0,330.6 L199.0,330.5 L200.0,330.3 L201.0,330.2 L202.0,330.0 L203.0,329.9 L204.0,329.8 L205.0,329.6 L206.0,329.5 L207.0,329.3 L208.0,329.2 L209.0,329.1 L210.0,328.9 L211.0,328.8 L212.0,328.6 L213.0,328.5 L214.0,328.4 L215.0,328.2 L216.0,328.1 L217.0,327.9 L218.0,327.8 L219.0,327.6 L220.0,327.5 L221.0,327.4 L222.0,327.2 L223.0,327.1 L224.0,326.9 L225.0,326.8 L226.0,326.7 L227.0,326.5 L228.0,326.4 L229.0,326.2 L230.0,326.1 L231.0,326.0 L232.0,325.8 L233.0,325.7 L234.0,325.5 L235.0,325.4 L236.0,325.3 L237.0,325.1 L238.0,325.0 L239.0,324.9 L240.0,324.7 L241.0,324.6 L242.0,324.4 L243.0,324.3 L244.0,324.2 L245.0,324.0 L246.0,323.9 L247.0,323.7 L248.0,323.6 L249.0,323.5 L250.0,323.3 L251.0,323.2 L252.0,323.1 L253.0,322.9 L254.0,322.8 L255.0,322.6 L256.0,322.5 L257.0,322.4 L258.0,322.2 L259.0,322.1 L260.0,321.9 L261.0,321.8 L262.0,321.6 L263.0,321.5 L264.0,321.3 L265.0,321.2 L266.0,321.0 L267.0,320.9 L268.0,320.7 L269.0,320.6 L270.0,320.4 L271.0,320.3 L272.0,320.1 L273.0,320.0 L274.0,319.8 L275.0,319.7 L276.0,319.5 L277.0,319.4 L278.0,319.2 L279.0,319.1 L280.0,319.0 L281.0,318.8 L282.0,318.7 L283.0,318.5 L284.0,318.4 L285.0,318.2 L286.0,318.1 L287.0,317.9 L288.0,317.8 L289.0,317.6 L290.0,317.5 L291.0,317.3 L292.0,317.2 L293.0,317.0 L294.0,316.9 L295.0,316.7 L296.0,316.6 L297.0,316.4 L298.0,316.3 L299.0,316.1 L300.0,316.0 L301.0,315.8 L302.0,315.7 L303.0,315.5 L304.0,315.4 L305.0,315.2 L306.0,315.1 L307.0,314.9 L308.0,314.8 L309.0,314.6 L310.0,314.5 L311.0,314.3 L312.0,314.2 L313.0,314.0 L314.0,313.9 L315.0,313.7 L316.0,313.6 L317.0,313.4 L318.0,313.3 L319.0,313.1 L320.0,313.0 L321.0,312.8 L322.0,312.7 L323.0,312.5 L324.0,312.4 L325.0,312.2 L326.0,312.1 L327.0,311.9 L328.0,311.8 L329.0,311.6 L330.0,311.5 L331.0,311.3 L332.0,311.2 L333.0,311.0 L334.0,310.9 L335.0,310.7 L336.0,310.6 L337.0,310.4 L338.0,310.3 L339.0,310.1 L340.0,310.0 L341.0,309.8 L342.0,309.7 L343.0,309.5 L344.0,309.4 L345.0,309.2 L346.0,309.1 L347.0,308.9 L348.0,308.8 L349.0,308.6 L350.0,308.5 L351.0,308.3 L352.0,308.2 L353.0,308.0 L354.0,307.9 L355.0,307.7 L356.0,307.6 L357.0,307.4 L358.0,307.3 L359.0,307.1 L360.0,306.9 L361.0,306.8 L362.0,306.6 L363.0,306.5 L364.0,306.3 L365.0,306.2 L366.0,306.0 L367.0,305.9 L368.0,305.7 L369.0,305.6 L370.0,305.4 L371.0,305.3 L372.0,305.1 L373.0,305.0 L374.0,304.8 L375.0,304.7 L376.0,304.5 L377.0,304.4 L378.0,304.2 L379.0,304.1 L380.0,303.9 L381.0,303.8 L382.0,303.6 L383.0,303.5 L384.0,303.3 L385.0,303.2 L386.0,303.0 L387.0,302.9 L388.0,302.7 L389.0,302.6 L390.0,302.4 L391.0,302.3 L392.0,302.1 L393.0,302.0 L394.0,301.8 L395.0,301.7 L396.0,301.5 L397.0,301.4 L398.0,301.2 L399.0,301.1 L400.0,300.9 L401.0,300.8 L402.0,300.6 L403.0,300.5 L404.0,300.3 L405.0,300.2 L406.0,300.0 L407.0,299.9 L408.0,299.7 L409.0,299.6 L410.0,299.4 L411.0,299.3 L412.0,299.1 L413.0,299.0 L414.0,298.8 L415.0,298.7 L416.0,298.5 L417.0,298.4 L418.0,298.2 L419.0,298.1 L420.0,297.9 L421.0,297.8 L422.0,297.6 L423.0,297.5 L424.0,297.4 L425.0,297.3 L426.0,297.1 L427.0,297.0 L428.0,296.9 L429.0,296.8 L430.0,296.6 L431.0,296.5 L432.0,296.4 L433.0,296.3 L434.0,296.1 L435.0,296.0 L436.0,295.9 L437.0,295.8 L438.0,295.6 L439.0,295.5 L440.0,295.4 L441.0,295.3 L442.0,295.1 L443.0,295.0 L444.0,294.9 L445.0,294.8 L446.0,294.6 L447.0,294.5 L448.0,294.4 L449.0,294.2 L450.0,294.1 L451.0,294.0 L452.0,293.9 L453.0,293.7 L454.0,293.6 L455.0,293.5 L456.0,293.4 L457.0,293.2 L458.0,293.1 L459.0,293.0 L460.0,292.9 L461.0,292.7 L462.0,292.6 L463.0,292.5 L464.0,292.4 L465.0,292.2 L466.0,292.1 L467.0,292.0 L468.0,291.9 L469.0,291.7 L470.0,291.6 L471.0,291.4 L472.0,291.2 L473.0,291.0 L474.0,290.8 L475.0,290.7 L476.0,290.5 L477.0,290.3 L478.0,290.1 L479.0,289.9 L480.0,289.7 L481.0,289.5 L482.0,289.3 L483.0,289.1 L484.0,288.9 L485.0,288.8 L486.0,288.6 L487.0,288.4 L488.0,288.2 L489.0,288.0 L490.0,287.8 L491.0,287.6 L492.0,287.4 L493.0,287.2 L494.0,287.0 L495.0,286.9 L496.0,286.7 L497.0,286.5 L498.0,286.3 L499.0,286.1 L500.0,285.9 L501.0,285.7 L502.0,285.5 L503.0,285.3 L504.0,285.1 L505.0,284.9 L506.0,284.8 L507.0,284.6 L508.0,284.4 L509.0,284.2 L510.0,284.0 L511.0,283.8 L512.0,283.7 L513.0,283.5 L514.0,283.3 L515.0,283.2 L516.0,283.0 L517.0,282.8 L518.0,282.7 L519.0,282.5 L520.0,282.3 L521.0,282.2 L522.0,282.0 L523.0,281.9 L524.0,281.8 L525.0,281.8 L526.0,281.7 L527.0,281.6 L528.0,281.5 L529.0,281.5 L530.0,281.4 L531.0,281.3 L532.0,281.2 L533.0,281.2 L534.0,281.1 L535.0,281.0 L536.0,281.0 L537.0,281.0 L538.0,281.0 L539.0,281.0 L540.0,281.0 L541.0,281.0 L542.0,281.0 L543.0,281.0 L544.0,281.0 L545.0,281.0 L546.0,281.0 L547.0,281.0 L548.0,281.0 L549.0,281.0 L550.0,281.0 L551.0,281.0 L552.0,281.0 L553.0,281.0 L554.0,281.0 L555.0,281.0 L556.0,281.0 L557.0,281.0 L558.0,281.0 L559.0,281.0 L560.0,281.0 L561.0,281.0 L562.0,281.0 L563.0,281.0 L564.0,281.0 L565.0,281.0 L566.0,281.0 L567.0,281.0 L568.0,281.0 L569.0,281.0 L570.0,281.0 L571.0,281.0 L572.0,281.0 L573.0,281.0 L574.0,281.0 L575.0,281.0 L576.0,281.0 L577.0,281.0 L578.0,281.0 L579.0,281.0 L580.0,281.0 L581.0,281.0 L582.0,281.0 L583.0,281.0 L584.0,281.0 L585.0,281.0 L586.0,281.0 L587.0,281.0 L588.0,281.0 L588.0,304.0 L587.0,304.0 L586.0,304.0 L585.0,304.0 L584.0,304.0 L583.0,304.0 L582.0,304.0 L581.0,304.0 L580.0,304.0 L579.0,304.0 L578.0,304.0 L577.0,304.0 L576.0,304.0 L575.0,304.0 L574.0,304.0 L573.0,304.0 L572.0,304.0 L571.0,304.0 L570.0,304.0 L569.0,304.0 L568.0,304.0 L567.0,304.0 L566.0,304.0 L565.0,304.0 L564.0,304.0 L563.0,304.0 L562.0,304.0 L561.0,304.0 L560.0,304.0 L559.0,304.0 L558.0,304.0 L557.0,304.0 L556.0,304.0 L555.0,304.0 L554.0,304.0 L553.0,304.0 L552.0,304.0 L551.0,304.0 L550.0,304.0 L549.0,304.0 L548.0,304.0 L547.0,304.0 L546.0,304.0 L545.0,304.0 L544.0,304.0 L543.0,304.0 L542.0,304.0 L541.0,304.0 L540.0,304.0 L539.0,304.0 L538.0,304.0 L537.0,304.1 L536.0,304.1 L535.0,304.1 L534.0,304.1 L533.0,304.1 L532.0,304.2 L531.0,304.2 L530.0,304.2 L529.0,304.2 L528.0,304.2 L527.0,304.3 L526.0,304.3 L525.0,304.3 L524.0,304.4 L523.0,304.5 L522.0,304.5 L521.0,304.6 L520.0,304.7 L519.0,304.8 L518.0,304.9 L517.0,304.9 L516.0,305.0 L515.0,305.1 L514.0,305.2 L513.0,305.3 L512.0,305.3 L511.0,305.4 L510.0,305.5 L509.0,305.6 L508.0,305.7 L507.0,305.8 L506.0,306.0 L505.0,306.1 L504.0,306.2 L503.0,306.3 L502.0,306.4 L501.0,306.5 L500.0,306.6 L499.0,306.8 L498.0,306.9 L497.0,307.0 L496.0,307.1 L495.0,307.2 L494.0,307.3 L493.0,307.5 L492.0,307.6 L491.0,307.7 L490.0,307.8 L489.0,307.9 L488.0,308.0 L487.0,308.1 L486.0,308.3 L485.0,308.4 L484.0,308.5 L483.0,308.6 L482.0,308.7 L481.0,308.8 L480.0,309.0 L479.0,309.1 L478.0,309.2 L477.0,309.3 L476.0,309.4 L475.0,309.5 L474.0,309.6 L473.0,309.8 L472.0,309.9 L471.0,310.0 L470.0,310.1 L469.0,310.2 L468.0,310.3 L467.0,310.4 L466.0,310.5 L465.0,310.6 L464.0,310.7 L463.0,310.8 L462.0,310.9 L461.0,311.0 L460.0,311.1 L459.0,311.2 L458.0,311.3 L457.0,311.5 L456.0,311.6 L455.0,311.7 L454.0,311.8 L453.0,311.9 L452.0,312.0 L451.0,312.1 L450.0,312.2 L449.0,312.3 L448.0,312.4 L447.0,312.5 L446.0,312.6 L445.0,312.7 L444.0,312.8 L443.0,312.9 L442.0,313.0 L441.0,313.1 L440.0,313.2 L439.0,313.3 L438.0,313.4 L437.0,313.5 L436.0,313.6 L435.0,313.7 L434.0,313.8 L433.0,313.9 L432.0,314.1 L431.0,314.2 L430.0,314.3 L429.0,314.4 L428.0,314.5 L427.0,314.6 L426.0,314.7 L425.0,314.8 L424.0,314.9 L423.0,315.0 L422.0,315.1 L421.0,315.2 L420.0,315.3 L419.0,315.4 L418.0,315.5 L417.0,315.6 L416.0,315.7 L415.0,315.8 L414.0,315.9 L413.0,316.0 L412.0,316.1 L411.0,316.2 L410.0,316.3 L409.0,316.4 L408.0,316.6 L407.0,316.7 L406.0,316.8 L405.0,316.9 L404.0,317.0 L403.0,317.1 L402.0,317.2 L401.0,317.3 L400.0,317.4 L399.0,317.5 L398.0,317.6 L397.0,317.7 L396.0,317.8 L395.0,317.9 L394.0,318.0 L393.0,318.1 L392.0,318.2 L391.0,318.3 L390.0,318.4 L389.0,318.5 L388.0,318.6 L387.0,318.7 L386.0,318.8 L385.0,318.9 L384.0,319.1 L383.0,319.2 L382.0,319.3 L381.0,319.4 L380.0,319.5 L379.0,319.6 L378.0,319.7 L377.0,319.8 L376.0,319.9 L375.0,320.0 L374.0,320.1 L373.0,320.2 L372.0,320.3 L371.0,320.4 L370.0,320.5 L369.0,320.6 L368.0,320.7 L367.0,320.8 L366.0,320.9 L365.0,321.0 L364.0,321.1 L363.0,321.2 L362.0,321.3 L361.0,321.4 L360.0,321.6 L359.0,321.7 L358.0,321.8 L357.0,321.9 L356.0,322.0 L355.0,322.1 L354.0,322.2 L353.0,322.3 L352.0,322.4 L351.0,322.5 L350.0,322.6 L349.0,322.7 L348.0,322.8 L347.0,322.9 L346.0,323.0 L345.0,323.1 L344.0,323.2 L343.0,323.3 L342.0,323.4 L341.0,323.5 L340.0,323.6 L339.0,323.7 L338.0,323.8 L337.0,323.9 L336.0,324.1 L335.0,324.2 L334.0,324.3 L333.0,324.4 L332.0,324.5 L331.0,324.6 L330.0,324.7 L329.0,324.8 L328.0,324.9 L327.0,325.0 L326.0,325.1 L325.0,325.2 L324.0,325.3 L323.0,325.4 L322.0,325.5 L321.0,325.6 L320.0,325.7 L319.0,325.8 L318.0,325.9 L317.0,326.0 L316.0,326.1 L315.0,326.2 L314.0,326.3 L313.0,326.4 L312.0,326.6 L311.0,326.7 L310.0,326.8 L309.0,326.9 L308.0,327.0 L307.0,327.1 L306.0,327.2 L305.0,327.3 L304.0,327.4 L303.0,327.5 L302.0,327.6 L301.0,327.7 L300.0,327.8 L299.0,327.9 L298.0,328.0 L297.0,328.1 L296.0,328.2 L295.0,328.3 L294.0,328.4 L293.0,328.5 L292.0,328.6 L291.0,328.7 L290.0,328.8 L289.0,328.9 L288.0,329.1 L287.0,329.2 L286.0,329.3 L285.0,329.4 L284.0,329.5 L283.0,329.6 L282.0,329.7 L281.0,329.8 L280.0,329.9 L279.0,330.0 L278.0,330.1 L277.0,330.2 L276.0,330.3 L275.0,330.4 L274.0,330.5 L273.0,330.6 L272.0,330.7 L271.0,330.8 L270.0,330.9 L269.0,331.0 L268.0,331.1 L267.0,331.2 L266.0,331.4 L265.0,331.5 L264.0,331.6 L263.0,331.7 L262.0,331.8 L261.0,331.9 L260.0,332.0 L259.0,332.1 L258.0,332.2 L257.0,332.3 L256.0,332.4 L255.0,332.5 L254.0,332.6 L253.0,332.7 L252.0,332.8 L251.0,333.0 L250.0,333.1 L249.0,333.2 L248.0,333.3 L247.0,333.4 L246.0,333.5 L245.0,333.6 L244.0,333.7 L243.0,333.9 L242.0,334.0 L241.0,334.1 L240.0,334.2 L239.0,334.3 L238.0,334.4 L237.0,334.5 L236.0,334.6 L235.0,334.7 L234.0,334.9 L233.0,335.0 L232.0,335.1 L231.0,335.2 L230.0,335.3 L229.0,335.4 L228.0,335.5 L227.0,335.6 L226.0,335.7 L225.0,335.8 L224.0,335.9 L223.0,336.0 L222.0,336.1 L221.0,336.2 L220.0,336.3 L219.0,336.3 L218.0,336.4 L217.0,336.5 L216.0,336.6 L215.0,336.7 L214.0,336.8 L213.0,336.9 L212.0,337.0 L211.0,337.1 L210.0,337.2 L209.0,337.3 L208.0,337.4 L207.0,337.5 L206.0,337.6 L205.0,337.7 L204.0,337.8 L203.0,337.9 L202.0,338.0 L201.0,338.1 L200.0,338.2 L199.0,338.2 L198.0,338.3 L197.0,338.4 L196.0,338.5 L195.0,338.6 L194.0,338.7 L193.0,338.8 L192.0,338.9 L191.0,339.0 L190.0,339.1 L189.0,339.2 L188.0,339.3 L187.0,339.4 L186.0,339.5 L185.0,339.6 L184.0,339.7 L183.0,339.8 L182.0,339.9 L181.0,340.0 L180.0,340.1 L179.0,340.1 L178.0,340.2 L177.0,340.3 L176.0,340.4 L175.0,340.5 L174.0,340.6 L173.0,340.7 L172.0,340.8 L171.0,340.9 L170.0,341.0 L169.0,341.1 L168.0,341.2 L167.0,341.3 L166.0,341.4 L165.0,341.5 L164.0,341.6 L163.0,341.7 L162.0,341.8 L161.0,341.9 L160.0,342.0 L159.0,342.0 L158.0,342.1 L157.0,342.2 L156.0,342.3 L155.0,342.4 L154.0,342.5 L153.0,342.6 L152.0,342.7 L151.0,342.8 L150.0,342.9 L149.0,343.0 L148.0,343.1 L147.0,343.1 L146.0,343.1 L145.0,343.2 L144.0,343.2 L143.0,343.3 L142.0,343.4 L141.0,343.4 L140.0,343.4 L139.0,343.5 L138.0,343.6 L137.0,343.6 L136.0,343.6 L135.0,343.7 L134.0,343.8 L133.0,343.8 L132.0,343.9 L131.0,343.9 L130.0,343.9 L129.0,344.0 L128.0,344.1 L127.0,344.1 L126.0,344.1 L125.0,344.2 L124.0,344.2 L123.0,344.3 L122.0,344.4 L121.0,344.4 L120.0,344.4 L119.0,344.5 L118.0,344.6 L117.0,344.6 L116.0,344.6 L115.0,344.7 L114.0,344.8 L113.0,344.8 L112.0,344.9 L111.0,344.9 L110.0,344.9 L109.0,345.0 L108.0,345.1 L107.0,345.1 L106.0,345.1 L105.0,345.2 L104.0,345.2 L103.0,345.3 L102.0,345.4 L101.0,345.4 L100.0,345.4 L99.0,345.5 L98.0,345.6 L97.0,345.6 L96.0,345.6 L95.0,345.7 L94.0,345.8 L93.0,345.8 L92.0,345.9 L91.0,345.9 L90.0,345.9 L89.0,346.0 L88.0,346.1 L87.0,346.1 L86.0,346.1 L85.0,346.2 L84.0,346.2 L83.0,346.3 L82.0,346.4 L81.0,346.4 L80.0,346.4 L79.0,346.5 L78.0,346.6 L77.0,346.6 L76.0,346.6 L75.0,346.7 L74.0,346.8 L73.0,346.8 L72.0,346.9 L71.0,346.9 L70.0,346.9 L69.0,347.0 L68.0,347.1 L67.0,347.1 L66.0,347.1 L65.0,347.2 L64.0,347.2 L63.0,347.3 L62.0,347.4 L61.0,347.4 L60.0,347.4 L59.0,347.5 L58.0,347.6 L57.0,347.6 L56.0,347.6 L55.0,347.7 L54.0,347.8 L53.0,347.8 L52.0,347.9 L51.0,347.9 L50.0,347.9 L49.0,348.0Z" fill="#f69047" fill-opacity="0.5"/>
<path d="M49.00,348.00 L50.00,347.72 L51.00,347.44 L52.00,347.16 L53.00,346.88 L54.00,346.60 L55.00,346.32 L56.00,346.04 L57.00,345.76 L58.00,345.48 L59.00,345.20 L60.00,344.92 L61.00,344.64 L62.00,344.36 L63.00,344.08 L64.00,343.80 L65.00,343.52 L66.00,343.24 L67.00,342.96 L68.00,342.68 L69.00,342.40 L70.00,342.12 L71.00,341.84 L72.00,341.56 L73.00,341.28 L74.00,341.00 L75.00,340.72 L76.00,340.44 L77.00,340.16 L78.00,339.88 L79.00,339.60 L80.00,339.32 L81.00,339.04 L82.00,338.76 L83.00,338.48 L84.00,338.20 L85.00,337.92 L86.00,337.64 L87.00,337.36 L88.00,337.08 L89.00,336.80 L90.00,336.52 L91.00,336.24 L92.00,335.96 L93.00,335.68 L94.00,335.40 L95.00,335.12 L96.00,334.84 L97.00,334.56 L98.00,334.28 L99.00,334.00 L100.00,333.74 L101.00,333.47 L102.00,333.21 L103.00,332.94 L104.00,332.68 L105.00,332.42 L106.00,332.15 L107.00,331.89 L108.00,331.62 L109.00,331.36 L110.00,331.10 L111.00,330.83 L112.00,330.57 L113.00,330.30 L114.00,330.04 L115.00,329.78 L116.00,329.51 L117.00,329.25 L118.00,328.98 L119.00,328.72 L120.00,328.46 L121.00,328.19 L122.00,327.93 L123.00,327.66 L124.00,327.40 L125.00,327.14 L126.00,326.87 L127.00,326.61 L128.00,326.34 L129.00,326.08 L130.00,325.82 L131.00,325.55 L132.00,325.29 L133.00,325.02 L134.00,324.76 L135.00,324.50 L136.00,324.23 L137.00,323.97 L138.00,323.70 L139.00,323.44 L140.00,323.18 L141.00,322.91 L142.00,322.65 L143.00,322.38 L144.00,322.12 L145.00,321.86 L146.00,321.59 L147.00,321.33 L148.00,321.06 L149.00,320.80 L150.00,320.55 L151.00,320.29 L152.00,320.04 L153.00,319.78 L154.00,319.53 L155.00,319.27 L156.00,319.02 L157.00,318.77 L158.00,318.51 L159.00,318.26 L160.00,318.00 L161.00,317.75 L162.00,317.49 L163.00,317.24 L164.00,316.99 L165.00,316.73 L166.00,316.48 L167.00,316.22 L168.00,315.97 L169.00,315.71 L170.00,315.46 L171.00,315.20 L172.00,314.95 L173.00,314.70 L174.00,314.44 L175.00,314.19 L176.00,313.93 L177.00,313.68 L178.00,313.42 L179.00,313.17 L180.00,312.92 L181.00,312.66 L182.00,312.41 L183.00,312.15 L184.00,311.90 L185.00,311.64 L186.00,311.39 L187.00,311.14 L188.00,310.88 L189.00,310.63 L190.00,310.37 L191.00,310.12 L192.00,309.86 L193.00,309.61 L194.00,309.36 L195.00,309.10 L196.00,308.85 L197.00,308.59 L198.00,308.34 L199.00,308.08 L200.00,307.83 L201.00,307.58 L202.00,307.32 L203.00,307.07 L204.00,306.81 L205.00,306.56 L206.00,306.30 L207.00,306.05 L208.00,305.80 L209.00,305.54 L210.00,305.29 L211.00,305.03 L212.00,304.78 L213.00,304.52 L214.00,304.27 L215.00,304.01 L216.00,303.76 L217.00,303.51 L218.00,303.25 L219.00,303.00 L220.00,302.74 L221.00,302.49 L222.00,302.23 L223.00,301.98 L224.00,301.73 L225.00,301.47 L226.00,301.22 L227.00,300.96 L228.00,300.71 L229.00,300.45 L230.00,300.20 L231.00,300.00 L232.00,299.80 L233.00,299.60 L234.00,299.40 L235.00,299.20 L236.00,299.00 L237.00,298.80 L238.00,298.60 L239.00,298.40 L240.00,298.20 L241.00,298.00 L242.00,297.80 L243.00,297.60 L244.00,297.40 L245.00,297.20 L246.00,297.00 L247.00,296.80 L248.00,296.60 L249.00,296.40 L250.00,296.20 L251.00,296.00 L252.00,295.80 L253.00,295.60 L254.00,295.40 L255.00,295.20 L256.00,295.00 L257.00,294.70 L258.00,294.41 L259.00,294.11 L260.00,293.82 L261.00,293.52 L262.00,293.23 L263.00,292.93 L264.00,292.64 L265.00,292.34 L266.00,292.05 L267.00,291.75 L268.00,291.45 L269.00,291.16 L270.00,290.86 L271.00,290.57 L272.00,290.27 L273.00,289.98 L274.00,289.68 L275.00,289.39 L275.50,288.20 L279.00,288.20 L279.00,285.99 L286.50,285.99 L286.50,283.77 L294.00,283.77 L294.00,281.59 L301.50,281.59 L301.50,279.52 L309.00,279.52 L309.00,277.46 L316.50,277.46 L316.50,275.40 L324.00,275.40 L324.00,273.34 L331.50,273.34 L331.50,271.27 L339.00,271.27 L339.00,269.21 L346.50,269.21 L346.50,267.15 L354.00,267.15 L354.00,265.09 L361.50,265.09 L361.50,263.02 L369.00,263.02 L369.00,260.96 L376.50,260.96 L376.50,258.90 L384.00,258.90 L384.00,256.84 L391.50,256.84 L391.50,254.78 L399.00,254.78 L399.00,252.71 L406.50,252.71 L406.50,250.65 L414.00,250.65 L414.00,248.66 L421.50,248.66 L421.50,246.97 L429.00,246.97 L429.00,245.27 L436.50,245.27 L436.50,243.58 L444.00,243.58 L444.00,241.88 L451.50,241.88 L451.50,240.19 L459.00,240.19 L459.00,238.49 L466.50,238.49 L466.50,236.48 L474.00,236.48 L474.00,234.18 L481.50,234.18 L481.50,231.89 L489.00,231.89 L489.00,229.60 L496.50,229.60 L496.50,227.31 L504.00,227.31 L504.00,224.75 L511.50,224.75 L511.50,222.21 L519.00,222.21 L519.00,220.03 L526.50,220.03 L526.50,219.89 L588.00,219.89 L588.00,281.00 L587.00,281.00 L586.00,281.00 L585.00,281.00 L584.00,281.00 L583.00,281.00 L582.00,281.00 L581.00,281.00 L580.00,281.00 L579.00,281.00 L578.00,281.00 L577.00,281.00 L576.00,281.00 L575.00,281.00 L574.00,281.00 L573.00,281.00 L572.00,281.00 L571.00,281.00 L570.00,281.00 L569.00,281.00 L568.00,281.00 L567.00,281.00 L566.00,281.00 L565.00,281.00 L564.00,281.00 L563.00,281.00 L562.00,281.00 L561.00,281.00 L560.00,281.00 L559.00,281.00 L558.00,281.00 L557.00,281.00 L556.00,281.00 L555.00,281.00 L554.00,281.00 L553.00,281.00 L552.00,281.00 L551.00,281.00 L550.00,281.00 L549.00,281.00 L548.00,281.00 L547.00,281.00 L546.00,281.00 L545.00,281.00 L544.00,281.00 L543.00,281.00 L542.00,281.00 L541.00,281.00 L540.00,281.00 L539.00,281.00 L538.00,281.00 L537.00,281.00 L536.00,281.00 L535.00,281.00 L534.00,281.08 L533.00,281.15 L532.00,281.23 L531.00,281.31 L530.00,281.38 L529.00,281.46 L528.00,281.54 L527.00,281.62 L526.00,281.69 L525.00,281.77 L524.00,281.85 L523.00,281.92 L522.00,282.00 L521.00,282.17 L520.00,282.33 L519.00,282.50 L518.00,282.67 L517.00,282.83 L516.00,283.00 L515.00,283.17 L514.00,283.33 L513.00,283.50 L512.00,283.67 L511.00,283.83 L510.00,284.00 L509.00,284.19 L508.00,284.38 L507.00,284.57 L506.00,284.76 L505.00,284.95 L504.00,285.14 L503.00,285.33 L502.00,285.52 L501.00,285.71 L500.00,285.90 L499.00,286.09 L498.00,286.28 L497.00,286.47 L496.00,286.66 L495.00,286.85 L494.00,287.04 L493.00,287.23 L492.00,287.42 L491.00,287.61 L490.00,287.80 L489.00,287.99 L488.00,288.18 L487.00,288.37 L486.00,288.56 L485.00,288.75 L484.00,288.94 L483.00,289.13 L482.00,289.32 L481.00,289.51 L480.00,289.70 L479.00,289.89 L478.00,290.08 L477.00,290.27 L476.00,290.46 L475.00,290.65 L474.00,290.84 L473.00,291.03 L472.00,291.22 L471.00,291.41 L470.00,291.60 L469.00,291.73 L468.00,291.85 L467.00,291.98 L466.00,292.10 L465.00,292.23 L464.00,292.36 L463.00,292.48 L462.00,292.61 L461.00,292.73 L460.00,292.86 L459.00,292.99 L458.00,293.11 L457.00,293.24 L456.00,293.36 L455.00,293.49 L454.00,293.62 L453.00,293.74 L452.00,293.87 L451.00,293.99 L450.00,294.12 L449.00,294.25 L448.00,294.37 L447.00,294.50 L446.00,294.62 L445.00,294.75 L444.00,294.88 L443.00,295.00 L442.00,295.13 L441.00,295.25 L440.00,295.38 L439.00,295.51 L438.00,295.63 L437.00,295.76 L436.00,295.88 L435.00,296.01 L434.00,296.14 L433.00,296.26 L432.00,296.39 L431.00,296.51 L430.00,296.64 L429.00,296.77 L428.00,296.89 L427.00,297.02 L426.00,297.14 L425.00,297.27 L424.00,297.40 L423.00,297.52 L422.00,297.65 L421.00,297.77 L420.00,297.90 L419.00,298.05 L418.00,298.20 L417.00,298.35 L416.00,298.50 L415.00,298.65 L414.00,298.80 L413.00,298.96 L412.00,299.11 L411.00,299.26 L410.00,299.41 L409.00,299.56 L408.00,299.71 L407.00,299.86 L406.00,300.01 L405.00,300.16 L404.00,300.31 L403.00,300.46 L402.00,300.62 L401.00,300.77 L400.00,300.92 L399.00,301.07 L398.00,301.22 L397.00,301.37 L396.00,301.52 L395.00,301.67 L394.00,301.82 L393.00,301.97 L392.00,302.12 L391.00,302.27 L390.00,302.42 L389.00,302.58 L388.00,302.73 L387.00,302.88 L386.00,303.03 L385.00,303.18 L384.00,303.33 L383.00,303.48 L382.00,303.63 L381.00,303.78 L380.00,303.93 L379.00,304.08 L378.00,304.24 L377.00,304.39 L376.00,304.54 L375.00,304.69 L374.00,304.84 L373.00,304.99 L372.00,305.14 L371.00,305.29 L370.00,305.44 L369.00,305.59 L368.00,305.74 L367.00,305.89 L366.00,306.04 L365.00,306.20 L364.00,306.35 L363.00,306.50 L362.00,306.65 L361.00,306.80 L360.00,306.95 L359.00,307.10 L358.00,307.25 L357.00,307.40 L356.00,307.55 L355.00,307.70 L354.00,307.86 L353.00,308.01 L352.00,308.16 L351.00,308.31 L350.00,308.46 L349.00,308.61 L348.00,308.76 L347.00,308.91 L346.00,309.06 L345.00,309.21 L344.00,309.36 L343.00,309.51 L342.00,309.66 L341.00,309.82 L340.00,309.97 L339.00,310.12 L338.00,310.27 L337.00,310.42 L336.00,310.57 L335.00,310.72 L334.00,310.87 L333.00,311.02 L332.00,311.17 L331.00,311.32 L330.00,311.48 L329.00,311.63 L328.00,311.78 L327.00,311.93 L326.00,312.08 L325.00,312.23 L324.00,312.38 L323.00,312.53 L322.00,312.68 L321.00,312.83 L320.00,312.98 L319.00,313.13 L318.00,313.28 L317.00,313.44 L316.00,313.59 L315.00,313.74 L314.00,313.89 L313.00,314.04 L312.00,314.19 L311.00,314.34 L310.00,314.49 L309.00,314.64 L308.00,314.79 L307.00,314.94 L306.00,315.10 L305.00,315.25 L304.00,315.40 L303.00,315.55 L302.00,315.70 L301.00,315.85 L300.00,316.00 L299.00,316.15 L298.00,316.30 L297.00,316.44 L296.00,316.59 L295.00,316.74 L294.00,316.89 L293.00,317.03 L292.00,317.18 L291.00,317.33 L290.00,317.48 L289.00,317.62 L288.00,317.77 L287.00,317.92 L286.00,318.07 L285.00,318.22 L284.00,318.36 L283.00,318.51 L282.00,318.66 L281.00,318.81 L280.00,318.95 L279.00,319.10 L278.00,319.25 L277.00,319.40 L276.00,319.55 L275.00,319.69 L274.00,319.84 L273.00,319.99 L272.00,320.14 L271.00,320.28 L270.00,320.43 L269.00,320.58 L268.00,320.73 L267.00,320.88 L266.00,321.02 L265.00,321.17 L264.00,321.32 L263.00,321.47 L262.00,321.61 L261.00,321.76 L260.00,321.91 L259.00,322.06 L258.00,322.20 L257.00,322.35 L256.00,322.50 L255.00,322.64 L254.00,322.78 L253.00,322.92 L252.00,323.05 L251.00,323.19 L250.00,323.33 L249.00,323.47 L248.00,323.61 L247.00,323.75 L246.00,323.88 L245.00,324.02 L244.00,324.16 L243.00,324.30 L242.00,324.44 L241.00,324.58 L240.00,324.72 L239.00,324.85 L238.00,324.99 L237.00,325.13 L236.00,325.27 L235.00,325.41 L234.00,325.55 L233.00,325.68 L232.00,325.82 L231.00,325.96 L230.00,326.10 L229.00,326.24 L228.00,326.38 L227.00,326.52 L226.00,326.66 L225.00,326.80 L224.00,326.94 L223.00,327.09 L222.00,327.23 L221.00,327.37 L220.00,327.51 L219.00,327.65 L218.00,327.79 L217.00,327.93 L216.00,328.07 L215.00,328.21 L214.00,328.35 L213.00,328.49 L212.00,328.63 L211.00,328.77 L210.00,328.91 L209.00,329.06 L208.00,329.20 L207.00,329.34 L206.00,329.48 L205.00,329.62 L204.00,329.76 L203.00,329.90 L202.00,330.04 L201.00,330.18 L200.00,330.32 L199.00,330.46 L198.00,330.60 L197.00,330.74 L196.00,330.89 L195.00,331.03 L194.00,331.17 L193.00,331.31 L192.00,331.45 L191.00,331.59 L190.00,331.73 L189.00,331.87 L188.00,332.01 L187.00,332.15 L186.00,332.29 L185.00,332.43 L184.00,332.57 L183.00,332.71 L182.00,332.86 L181.00,333.00 L180.00,333.14 L179.00,333.28 L178.00,333.42 L177.00,333.56 L176.00,333.70 L175.00,333.84 L174.00,333.98 L173.00,334.12 L172.00,334.26 L171.00,334.40 L170.00,334.54 L169.00,334.69 L168.00,334.83 L167.00,334.97 L166.00,335.11 L165.00,335.25 L164.00,335.39 L163.00,335.53 L162.00,335.67 L161.00,335.81 L160.00,335.95 L159.00,336.09 L158.00,336.23 L157.00,336.37 L156.00,336.51 L155.00,336.66 L154.00,336.80 L153.00,336.94 L152.00,337.08 L151.00,337.22 L150.00,337.36 L149.00,337.50 L148.00,337.61 L147.00,337.72 L146.00,337.83 L145.00,337.94 L144.00,338.05 L143.00,338.16 L142.00,338.27 L141.00,338.38 L140.00,338.49 L139.00,338.60 L138.00,338.71 L137.00,338.82 L136.00,338.93 L135.00,339.04 L134.00,339.15 L133.00,339.26 L132.00,339.37 L131.00,339.48 L130.00,339.59 L129.00,339.70 L128.00,339.81 L127.00,339.92 L126.00,340.03 L125.00,340.14 L124.00,340.25 L123.00,340.36 L122.00,340.47 L121.00,340.58 L120.00,340.69 L119.00,340.80 L118.00,340.91 L117.00,341.02 L116.00,341.13 L115.00,341.24 L114.00,341.35 L113.00,341.46 L112.00,341.57 L111.00,341.68 L110.00,341.79 L109.00,341.90 L108.00,342.01 L107.00,342.12 L106.00,342.23 L105.00,342.34 L104.00,342.45 L103.00,342.56 L102.00,342.67 L101.00,342.78 L100.00,342.89 L99.00,343.00 L98.00,343.10 L97.00,343.20 L96.00,343.30 L95.00,343.40 L94.00,343.50 L93.00,343.60 L92.00,343.70 L91.00,343.80 L90.00,343.90 L89.00,344.00 L88.00,344.10 L87.00,344.20 L86.00,344.30 L85.00,344.40 L84.00,344.50 L83.00,344.60 L82.00,344.70 L81.00,344.80 L80.00,344.90 L79.00,345.00 L78.00,345.10 L77.00,345.20 L76.00,345.30 L75.00,345.40 L74.00,345.50 L73.00,345.60 L72.00,345.70 L71.00,345.80 L70.00,345.90 L69.00,346.00 L68.00,346.10 L67.00,346.20 L66.00,346.30 L65.00,346.40 L64.00,346.50 L63.00,346.60 L62.00,346.70 L61.00,346.80 L60.00,346.90 L59.00,347.00 L58.00,347.10 L57.00,347.20 L56.00,347.30 L55.00,347.40 L54.00,347.50 L53.00,347.60 L52.00,347.70 L51.00,347.80 L50.00,347.90 L49.00,348.00Z" fill="#ffee91" fill-opacity="0.5"/>
<path d="M275.50,263.00 L283.60,263.00 L283.60,254.37 L291.72,254.37 L291.72,247.20 L299.83,247.20 L299.83,238.92 L307.95,238.92 L307.95,231.08 L316.07,231.08 L316.07,223.26 L324.18,223.26 L324.18,217.44 L332.30,217.44 L332.30,211.68 L340.42,211.68 L340.42,207.90 L345.82,207.90 L345.82,205.82 L351.22,205.82 L351.22,203.74 L356.62,203.74 L356.62,201.66 L362.02,201.66 L362.02,199.32 L367.42,199.32 L367.42,196.95 L372.82,196.95 L372.82,194.57 L378.22,194.57 L378.22,192.25 L383.62,192.25 L383.62,190.17 L389.02,190.17 L389.02,188.09 L394.42,188.09 L394.42,186.01 L399.82,186.01 L399.82,183.72 L405.22,183.72 L405.22,181.18 L410.62,181.18 L410.62,178.64 L416.02,178.64 L416.02,176.10 L421.42,176.10 L421.42,174.06 L426.82,174.06 L426.82,172.64 L429.52,172.64 L429.52,171.70 L432.22,171.70 L432.22,170.75 L434.92,170.75 L434.92,169.81 L437.62,169.81 L437.62,168.86 L440.32,168.86 L440.32,167.92 L443.02,167.92 L443.02,166.97 L445.72,166.97 L445.72,166.03 L448.42,166.03 L448.42,165.08 L451.12,165.08 L451.12,164.14 L453.82,164.14 L453.82,163.19 L456.52,163.19 L456.52,162.25 L459.22,162.25 L459.22,161.30 L461.92,161.30 L461.92,160.36 L464.62,160.36 L464.62,159.41 L467.32,159.41 L467.32,158.47 L470.02,158.47 L470.02,157.44 L472.72,157.44 L472.72,156.32 L475.42,156.32 L475.42,155.20 L478.12,155.20 L478.12,154.09 L480.82,154.09 L480.82,152.97 L483.52,152.97 L483.52,151.86 L486.22,151.86 L486.22,150.74 L488.92,150.74 L488.92,149.62 L491.62,149.62 L491.62,148.51 L494.32,148.51 L494.32,147.39 L497.02,147.39 L497.02,146.28 L499.72,146.28 L499.72,145.18 L502.42,145.18 L502.42,144.12 L505.12,144.12 L505.12,143.06 L507.82,143.06 L507.82,142.00 L510.52,142.00 L510.52,140.94 L513.22,140.94 L513.22,139.88 L515.92,139.88 L515.92,138.82 L518.62,138.82 L518.62,137.76 L521.32,137.76 L521.32,136.70 L524.02,136.70 L524.02,135.64 L526.72,135.64 L526.72,135.00 L588.00,135.00 L588.00,219.89 L526.50,219.89 L526.50,220.03 L519.00,220.03 L519.00,222.21 L511.50,222.21 L511.50,224.75 L504.00,224.75 L504.00,227.31 L496.50,227.31 L496.50,229.60 L489.00,229.60 L489.00,231.89 L481.50,231.89 L481.50,234.18 L474.00,234.18 L474.00,236.48 L466.50,236.48 L466.50,238.49 L459.00,238.49 L459.00,240.19 L451.50,240.19 L451.50,241.88 L444.00,241.88 L444.00,243.58 L436.50,243.58 L436.50,245.27 L429.00,245.27 L429.00,246.97 L421.50,246.97 L421.50,248.66 L414.00,248.66 L414.00,250.65 L406.50,250.65 L406.50,252.71 L399.00,252.71 L399.00,254.78 L391.50,254.78 L391.50,256.84 L384.00,256.84 L384.00,258.90 L376.50,258.90 L376.50,260.96 L369.00,260.96 L369.00,263.02 L361.50,263.02 L361.50,265.09 L354.00,265.09 L354.00,267.15 L346.50,267.15 L346.50,269.21 L339.00,269.21 L339.00,271.27 L331.50,271.27 L331.50,273.34 L324.00,273.34 L324.00,275.40 L316.50,275.40 L316.50,277.46 L309.00,277.46 L309.00,279.52 L301.50,279.52 L301.50,281.59 L294.00,281.59 L294.00,283.77 L286.50,283.77 L286.50,285.99 L279.00,285.99 L279.00,288.20 L275.50,288.20Z" fill="#207819" fill-opacity="0.5"/>
<path d="M275.50,240.00 L283.60,240.00 L283.60,236.16 L291.72,236.16 L291.72,226.28 L299.83,226.28 L299.83,214.88 L307.95,214.88 L307.95,203.51 L316.07,203.51 L316.07,192.76 L324.18,192.76 L324.18,181.50 L332.30,181.50 L332.30,176.21 L340.42,176.21 L340.42,171.90 L345.82,171.90 L345.82,168.45 L351.22,168.45 L351.22,165.77 L356.62,165.77 L356.62,163.39 L362.02,163.39 L362.02,161.01 L367.42,161.01 L367.42,158.80 L372.82,158.80 L372.82,156.72 L378.22,156.72 L378.22,154.56 L383.62,154.56 L383.62,151.94 L389.02,151.94 L389.02,149.32 L394.42,149.32 L394.42,146.70 L399.82,146.70 L399.82,144.10 L405.22,144.10 L405.22,141.54 L410.62,141.54 L410.62,138.97 L416.02,138.97 L416.02,136.41 L421.42,136.41 L421.42,133.70 L426.82,133.70 L426.82,131.64 L429.52,131.64 L429.52,130.26 L432.22,130.26 L432.22,128.88 L434.92,128.88 L434.92,127.50 L437.62,127.50 L437.62,126.13 L440.32,126.13 L440.32,124.87 L443.02,124.87 L443.02,123.68 L445.72,123.68 L445.72,122.49 L448.42,122.49 L448.42,121.30 L451.12,121.30 L451.12,119.91 L453.82,119.91 L453.82,118.49 L456.52,118.49 L456.52,117.07 L459.22,117.07 L459.22,115.65 L461.92,115.65 L461.92,114.24 L464.62,114.24 L464.62,112.82 L467.32,112.82 L467.32,111.40 L470.02,111.40 L470.02,110.14 L472.72,110.14 L472.72,109.03 L475.42,109.03 L475.42,107.93 L478.12,107.93 L478.12,106.82 L480.82,106.82 L480.82,105.71 L483.52,105.71 L483.52,104.60 L486.22,104.60 L486.22,103.50 L488.92,103.50 L488.92,102.39 L491.62,102.39 L491.62,101.28 L494.32,101.28 L494.32,100.18 L497.02,100.18 L497.02,99.07 L499.72,99.07 L499.72,97.94 L502.42,97.94 L502.42,96.79 L505.12,96.79 L505.12,95.64 L507.82,95.64 L507.82,94.49 L510.52,94.49 L510.52,93.34 L513.22,93.34 L513.22,92.18 L515.92,92.18 L515.92,91.49 L518.62,91.49 L518.62,90.88 L521.32,90.88 L521.32,90.28 L524.02,90.28 L524.02,89.67 L526.72,89.67 L526.72,89.15 L588.00,89.15 L588.00,135.00 L526.72,135.00 L526.72,135.64 L524.02,135.64 L524.02,136.70 L521.32,136.70 L521.32,137.76 L518.62,137.76 L518.62,138.82 L515.92,138.82 L515.92,139.88 L513.22,139.88 L513.22,140.94 L510.52,140.94 L510.52,142.00 L507.82,142.00 L507.82,143.06 L505.12,143.06 L505.12,144.12 L502.42,144.12 L502.42,145.18 L499.72,145.18 L499.72,146.28 L497.02,146.28 L497.02,147.39 L494.32,147.39 L494.32,148.51 L491.62,148.51 L491.62,149.62 L488.92,149.62 L488.92,150.74 L486.22,150.74 L486.22,151.86 L483.52,151.86 L483.52,152.97 L480.82,152.97 L480.82,154.09 L478.12,154.09 L478.12,155.20 L475.42,155.20 L475.42,156.32 L472.72,156.32 L472.72,157.44 L470.02,157.44 L470.02,158.47 L467.32,158.47 L467.32,159.41 L464.62,159.41 L464.62,160.36 L461.92,160.36 L461.92,161.30 L459.22,161.30 L459.22,162.25 L456.52,162.25 L456.52,163.19 L453.82,163.19 L453.82,164.14 L451.12,164.14 L451.12,165.08 L448.42,165.08 L448.42,166.03 L445.72,166.03 L445.72,166.97 L443.02,166.97 L443.02,167.92 L440.32,167.92 L440.32,168.86 L437.62,168.86 L437.62,169.81 L434.92,169.81 L434.92,170.75 L432.22,170.75 L432.22,171.70 L429.52,171.70 L429.52,172.64 L426.82,172.64 L426.82,174.06 L421.42,174.06 L421.42,176.10 L416.02,176.10 L416.02,178.64 L410.62,178.64 L410.62,181.18 L405.22,181.18 L405.22,183.72 L399.82,183.72 L399.82,186.01 L394.42,186.01 L394.42,188.09 L389.02,188.09 L389.02,190.17 L383.62,190.17 L383.62,192.25 L378.22,192.25 L378.22,194.57 L372.82,194.57 L372.82,196.95 L367.42,196.95 L367.42,199.32 L362.02,199.32 L362.02,201.66 L356.62,201.66 L356.62,203.74 L351.22,203.74 L351.22,205.82 L345.82,205.82 L345.82,207.90 L340.42,207.90 L340.42,211.68 L332.30,211.68 L332.30,217.44 L324.18,217.44 L324.18,223.26 L316.07,223.26 L316.07,231.08 L307.95,231.08 L307.95,238.92 L299.83,238.92 L299.83,247.20 L291.72,247.20 L291.72,254.37 L283.60,254.37 L283.60,263.00 L275.50,263.00Z" fill="#7ab66b" fill-opacity="0.5"/>
<path d="M275.50,237.50 L283.60,237.50 L283.60,229.16 L291.72,229.16 L291.72,217.04 L299.83,217.04 L299.83,205.20 L307.95,205.20 L307.95,192.84 L316.07,192.84 L316.07,180.61 L324.18,180.61 L324.18,168.34 L332.30,168.34 L332.30,162.53 L340.42,162.53 L340.42,158.20 L345.82,158.20 L345.82,154.75 L351.22,154.75 L351.22,151.67 L356.62,151.67 L356.62,148.73 L362.02,148.73 L362.02,145.79 L367.42,145.79 L367.42,142.86 L372.82,142.86 L372.82,139.91 L378.22,139.91 L378.22,136.84 L383.62,136.84 L383.62,133.77 L389.02,133.77 L389.02,130.70 L394.42,130.70 L394.42,127.64 L399.82,127.64 L399.82,124.73 L405.22,124.73 L405.22,122.00 L410.62,122.00 L410.62,119.28 L416.02,119.28 L416.02,116.55 L421.42,116.55 L421.42,113.70 L426.82,113.70 L426.82,111.53 L429.52,111.53 L429.52,110.09 L432.22,110.09 L432.22,108.64 L434.92,108.64 L434.92,107.20 L437.62,107.20 L437.62,105.75 L440.32,105.75 L440.32,104.44 L443.02,104.44 L443.02,103.21 L445.72,103.21 L445.72,101.97 L448.42,101.97 L448.42,100.74 L451.12,100.74 L451.12,99.51 L453.82,99.51 L453.82,98.27 L456.52,98.27 L456.52,97.04 L459.22,97.04 L459.22,95.81 L461.92,95.81 L461.92,94.57 L464.62,94.57 L464.62,93.34 L467.32,93.34 L467.32,92.11 L470.02,92.11 L470.02,90.86 L472.72,90.86 L472.72,89.60 L475.42,89.60 L475.42,88.34 L478.12,88.34 L478.12,87.08 L480.82,87.08 L480.82,85.82 L483.52,85.82 L483.52,84.56 L486.22,84.56 L486.22,83.30 L488.92,83.30 L488.92,82.04 L491.62,82.04 L491.62,80.78 L494.32,80.78 L494.32,79.52 L497.02,79.52 L497.02,78.26 L499.72,78.26 L499.72,77.07 L502.42,77.07 L502.42,75.99 L505.12,75.99 L505.12,74.91 L507.82,74.91 L507.82,73.83 L510.52,73.83 L510.52,72.75 L513.22,72.75 L513.22,71.67 L515.92,71.67 L515.92,70.84 L518.62,70.84 L518.62,70.05 L521.32,70.05 L521.32,69.26 L524.02,69.26 L524.02,68.48 L526.72,68.48 L526.72,68.00 L588.00,68.00 L588.00,89.15 L526.72,89.15 L526.72,89.67 L524.02,89.67 L524.02,90.28 L521.32,90.28 L521.32,90.88 L518.62,90.88 L518.62,91.49 L515.92,91.49 L515.92,92.18 L513.22,92.18 L513.22,93.34 L510.52,93.34 L510.52,94.49 L507.82,94.49 L507.82,95.64 L505.12,95.64 L505.12,96.79 L502.42,96.79 L502.42,97.94 L499.72,97.94 L499.72,99.07 L497.02,99.07 L497.02,100.18 L494.32,100.18 L494.32,101.28 L491.62,101.28 L491.62,102.39 L488.92,102.39 L488.92,103.50 L486.22,103.50 L486.22,104.60 L483.52,104.60 L483.52,105.71 L480.82,105.71 L480.82,106.82 L478.12,106.82 L478.12,107.93 L475.42,107.93 L475.42,109.03 L472.72,109.03 L472.72,110.14 L470.02,110.14 L470.02,111.40 L467.32,111.40 L467.32,112.82 L464.62,112.82 L464.62,114.24 L461.92,114.24 L461.92,115.65 L459.22,115.65 L459.22,117.07 L456.52,117.07 L456.52,118.49 L453.82,118.49 L453.82,119.91 L451.12,119.91 L451.12,121.30 L448.42,121.30 L448.42,122.49 L445.72,122.49 L445.72,123.68 L443.02,123.68 L443.02,124.87 L440.32,124.87 L440.32,126.13 L437.62,126.13 L437.62,127.50 L434.92,127.50 L434.92,128.88 L432.22,128.88 L432.22,130.26 L429.52,130.26 L429.52,131.64 L426.82,131.64 L426.82,133.70 L421.42,133.70 L421.42,136.41 L416.02,136.41 L416.02,138.97 L410.62,138.97 L410.62,141.54 L405.22,141.54 L405.22,144.10 L399.82,144.10 L399.82,146.70 L394.42,146.70 L394.42,149.32 L389.02,149.32 L389.02,151.94 L383.62,151.94 L383.62,154.56 L378.22,154.56 L378.22,156.72 L372.82,156.72 L372.82,158.80 L367.42,158.80 L367.42,161.01 L362.02,161.01 L362.02,163.39 L356.62,163.39 L356.62,165.77 L351.22,165.77 L351.22,168.45 L345.82,168.45 L345.82,171.90 L340.42,171.90 L340.42,176.21 L332.30,176.21 L332.30,181.50 L324.18,181.50 L324.18,192.76 L316.07,192.76 L316.07,203.51 L307.95,203.51 L307.95,214.88 L299.83,214.88 L299.83,226.28 L291.72,226.28 L291.72,236.16 L283.60,236.16 L283.60,240.00 L275.50,240.00Z" fill="#c4ca67" fill-opacity="0.5"/>
<line x1="89" x2="89" y1="371" y2="374" stroke="#d8d8d8" stroke-width="1"/>
<line x1="186.4" x2="186.4" y1="371" y2="374" stroke="#d8d8d8" stroke-width="1"/>
<line x1="283.6" x2="283.6" y1="371" y2="374" stroke="#d8d8d8" stroke-width="1"/>
<line x1="381.2" x2="381.2" y1="371" y2="374" stroke="#d8d8d8" stroke-width="1"/>
<line x1="478.7" x2="478.7" y1="371" y2="374" stroke="#d8d8d8" stroke-width="1"/>
<line x1="576" x2="576" y1="371" y2="374" stroke="#d8d8d8" stroke-width="1"/>
<!-- navigator -->
<rect x="51" y="398" width="539" height="33.3" fill="#fde5eb" stroke="#e3c9d2" stroke-width="0.7"/>
<rect x="51" y="398" width="539" height="4.8" fill="#dce0eb"/>
<rect x="51" y="402.8" width="539" height="0.9" fill="#fff" opacity="0.6"/>
<rect x="317" y="399.2" width="6" height="1.6" rx="0.8" fill="#fff"/>
<line x1="51" x2="590" y1="416.4" y2="416.4" stroke="#c9a9b5" stroke-width="0.9"/>
<line x1="51" x2="590" y1="417.5" y2="417.5" stroke="#fff" stroke-opacity="0.7" stroke-width="0.8"/>
<rect x="47.2" y="409" width="8.3" height="16" rx="3.5" fill="#fff" stroke="#cfcfd4" stroke-width="0.6"/>
<line x1="50.5" x2="50.5" y1="414.5" y2="419.5" stroke="#888" stroke-width="0.9"/>
<line x1="52.5" x2="52.5" y1="414.5" y2="419.5" stroke="#888" stroke-width="0.9"/>
<rect x="585.3" y="408.5" width="7.5" height="15.8" rx="3.5" fill="#fff" stroke="#cfcfd4" stroke-width="0.6"/>
<line x1="588.3" x2="588.3" y1="414.3" y2="419" stroke="#888" stroke-width="0.9"/>
<line x1="590.5" x2="590.5" y1="414.3" y2="419" stroke="#888" stroke-width="0.9"/>
<!-- watermark lock -->
<circle cx="241.5" cy="247.5" r="10" fill="#fff" opacity="0.55"/>
<g fill="none" stroke="#e27699">
<path d="M237.2 244.5 V240.3 A4.8 4.8 0 0 1 246.6 238.6" stroke-width="2.9" stroke="#dc6f93"/>
<path d="M238.56 251.64 A5.3 5.3 0 1 1 244.64 251.64" stroke-width="4.7"/>
<path d="M238.56 251.64 A5.3 5.3 0 0 0 244.64 251.64" stroke-width="4.7" stroke="#f2bfd0"/>
</g>
</svg>
<div class="a" style="left:60.6px;top:76.8px;font-size:6.5px;line-height:10px;letter-spacing:0.12px;color:#bdbdc2;-webkit-text-stroke:0.15px #bdbdc2">Chart in UTC + 00:00 Time</div>
<div class="a" style="left:236px;top:56.8px;width:41px;text-align:center;font-size:8px;line-height:10px;color:#2c2c2c">Today</div>
<div class="yl" style="top:63.3px">1.00b</div>
<div class="yl" style="top:123.9px">800m</div>
<div class="yl" style="top:184.5px">600m</div>
<div class="yl" style="top:245.1px">400m</div>
<div class="yl" style="top:305.7px">200m</div>
<div class="yl" style="top:366.3px">0</div>
<div class="xl" style="left:59.0px">01 Jan 2022</div>
<div class="xl" style="left:156.4px">01 Jan 2023</div>
<div class="xl" style="left:253.6px">01 Jan 2024</div>
<div class="xl" style="left:351.2px">01 Jan 2025</div>
<div class="xl" style="left:448.7px">01 Jan 2026</div>
<div class="xl" style="left:546.0px">01 Jan 2027</div>

<!-- legend -->
<div class="lg" style="left:9.2px;top:447px;color:#b4b4b9;-webkit-text-stroke:0.15px #b4b4b9">Unlocks schedule</div>
<div class="sw" style="left:79.3px;top:448.2px;background:#d5e08c;border:0.6px solid #b9c36d"></div>
<div class="lg" style="left:89px;top:447px">Future Employees &amp; Consultants</div>
<div class="sw" style="left:212px;top:448.2px;background:#8fc585;border:0.6px solid #6ea863"></div>
<div class="lg" style="left:221.7px;top:447px">Employees &amp; Consultants</div>
<div class="sw" style="left:319.3px;top:448.2px;background:#3b8b3c;border:0.6px solid #2c6e2e"></div>
<div class="lg" style="left:328.3px;top:447px">Investors</div>
<div class="sw" style="left:370px;top:448.2px;background:#fbf0a8;border:0.6px solid #e7d98a"></div>
<div class="lg" style="left:379.2px;top:447px">Trading Rewards</div>
<div class="sw" style="left:446px;top:448.2px;background:#f09a5c;border:0.6px solid #d9804a"></div>
<div class="lg" style="left:456px;top:447px">Liquidity Provider Rewards</div>

<div class="sw" style="left:9.3px;top:465.1px;background:#c2668f;border:0.6px solid #a04d75"></div>
<div class="lg" style="left:19.3px;top:463.3px">Community Treasury</div>
<div class="sw" style="left:100.7px;top:465.1px;background:#eb9597;border:0.6px solid #d27779"></div>
<div class="lg" style="left:110.8px;top:463.3px">Safety Staking Pool</div>
<div class="sw" style="left:187.3px;top:465.1px;background:#e0643f;border:0.6px solid #c24e2d"></div>
<div class="lg" style="left:196.7px;top:463.3px">Liquidity Staking Pool</div>
<div class="sw" style="left:281.3px;top:465.1px;background:#f6c072;border:0.6px solid #dca75a"></div>
<div class="lg" style="left:290.7px;top:463.3px">Retroactive Mining Rewards</div>

<!-- source -->
<div class="a" style="left:236px;top:490px;font-size:12.5px;line-height:15px;color:#333">Source</div>
<div class="a" style="left:277.3px;top:490px;font-size:12.5px;line-height:15px;color:#333">:</div>
<div class="a" style="left:291px;top:490px;font-size:12.5px;line-height:15px;color:#333">TokenUnlocks</div>

<!-- jinse logo -->
<svg class="a" style="left:478px;top:478px" width="122" height="37" viewBox="0 0 122 37">
<g fill="#f7ab22">
<rect x="20" y="5" width="6" height="20.3" rx="0.6"/>
<rect x="5" y="19.8" width="21" height="5.5" rx="0.6"/>
<rect x="13.6" y="5.6" width="5.2" height="4.8" rx="0.5"/>
<rect x="5.6" y="13" width="5.2" height="4.8" rx="0.5"/>
</g>
<g transform="translate(33.6,9.2)"><path d="M1 7.5 L8.5 0.8 L16 7.5 M4 8 H13 M2.5 10.8 H14.5 M8.5 8 V15 M4.8 12 L5.8 14 M12.2 12 L11.2 14 M0.8 15.5 H16.2" fill="none" stroke="#c4c4c4" stroke-width="3.3" stroke-linejoin="round"/></g>
<g transform="translate(53.6,9.2)"><path d="M2 1.5 H13.5 L12.5 3 M1.5 4.5 H15 V10 H1.5 Z M8.2 4.5 V10 M1.5 10 V15.5 H16" fill="none" stroke="#c4c4c4" stroke-width="3.3" stroke-linejoin="round"/></g>
<g transform="translate(73.6,9.2)"><path d="M0.8 1 H6.5 V11 H0.8 Z M3.6 3 V8.5 M2.5 11.5 L0.5 15.5 M4.8 11.5 L6.8 15 M7.5 5 H16.5 M13 0.5 V15.5 L11 14.5 M13 6.5 L8 13.5" fill="none" stroke="#c4c4c4" stroke-width="3.3" stroke-linejoin="round"/></g>
<g transform="translate(92.6,9.2)"><path d="M4.5 0.5 L1 6 L5 6.5 L0.8 12 L6 11 M0.8 15.5 L6 13.5 M8 1.5 H15.5 L9 8 M10 3.5 L16.5 8.5 M8 10.5 H16 M12 8.5 V15.5 M7.5 15.5 H16.5" fill="none" stroke="#c4c4c4" stroke-width="3.3" stroke-linejoin="round"/></g>
<g transform="translate(33,8.5)"><path d="M1 7.5 L8.5 0.8 L16 7.5 M4 8 H13 M2.5 10.8 H14.5 M8.5 8 V15 M4.8 12 L5.8 14 M12.2 12 L11.2 14 M0.8 15.5 H16.2" fill="none" stroke="#fbfbfb" stroke-width="1.9" stroke-linejoin="round"/></g>
<g transform="translate(53,8.5)"><path d="M2 1.5 H13.5 L12.5 3 M1.5 4.5 H15 V10 H1.5 Z M8.2 4.5 V10 M1.5 10 V15.5 H16" fill="none" stroke="#fbfbfb" stroke-width="1.9" stroke-linejoin="round"/></g>
<g transform="translate(73,8.5)"><path d="M0.8 1 H6.5 V11 H0.8 Z M3.6 3 V8.5 M2.5 11.5 L0.5 15.5 M4.8 11.5 L6.8 15 M7.5 5 H16.5 M13 0.5 V15.5 L11 14.5 M13 6.5 L8 13.5" fill="none" stroke="#fbfbfb" stroke-width="1.9" stroke-linejoin="round"/></g>
<g transform="translate(92,8.5)"><path d="M4.5 0.5 L1 6 L5 6.5 L0.8 12 L6 11 M0.8 15.5 L6 13.5 M8 1.5 H15.5 L9 8 M10 3.5 L16.5 8.5 M8 10.5 H16 M12 8.5 V15.5 M7.5 15.5 H16.5" fill="none" stroke="#fbfbfb" stroke-width="1.9" stroke-linejoin="round"/></g>
<path d="M96.5 7.5 L93.5 13.5" stroke="#f2b43a" stroke-width="2.6" stroke-linecap="round"/>
</svg>
</body></html>
